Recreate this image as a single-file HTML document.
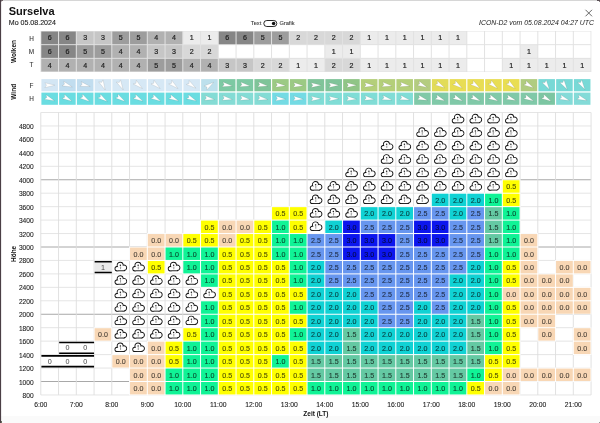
<!DOCTYPE html>
<html><head><meta charset="utf-8"><title>Surselva</title>
<style>
html,body{margin:0;padding:0;width:600px;height:423px;overflow:hidden;background:#fff}
body{position:relative;font-family:"Liberation Sans",sans-serif}
.cb{stroke:#111;stroke-width:1.8px;fill:#111}.cw{fill:#fff}.cm{stroke:#a0a0a0;stroke-width:1.1px}.ar{fill:#fff;stroke:rgba(70,70,70,0.25);stroke-width:0.45px;stroke-linejoin:round}
</style></head><body>
<svg width="600" height="423" viewBox="0 0 600 423" style="position:absolute;left:0;top:0;will-change:transform"><defs></defs><rect x="1" y="416" width="599" height="7" fill="#fafafa"/><text x="8.7" y="15.3" style="font-family:'Liberation Sans', sans-serif;font-size:11px;font-weight:bold" fill="#111">Surselva</text><text x="8.8" y="25.3" style="font-family:'Liberation Sans', sans-serif;font-size:7.05px" fill="#222" stroke="#222" stroke-width="0.12">Mo 05.08.2024</text><text x="261.3" y="25.1" text-anchor="end" style="font-family:'Liberation Sans', sans-serif;font-size:5.7px" fill="#333" stroke="#333" stroke-width="0.08">Text</text><rect x="263.8" y="20.5" width="13" height="6" rx="3" ry="3" fill="#fff" stroke="#111" stroke-width="0.9"/><circle cx="273.6" cy="23.5" r="1.75" fill="#111"/><text x="279.4" y="25.1" style="font-family:'Liberation Sans', sans-serif;font-size:5.7px" fill="#333" stroke="#333" stroke-width="0.08">Grafik</text><text x="594" y="25.2" text-anchor="end" style="font-family:'Liberation Sans', sans-serif;font-size:6.9px;font-style:italic" fill="#222">ICON-D2 vom 05.08.2024 04:27 UTC</text><path d="M585.5,9.8 L592,16.3 M592,9.8 L585.5,16.3" stroke="#555" stroke-width="0.9" fill="none"/><rect x="40.50" y="31.00" width="550.85" height="41.00" fill="#e2e2e2"/><rect x="41.30" y="31.50" width="16.75" height="12.7" fill="#868686"/><text x="49.67" y="40.40" text-anchor="middle" style="font-family:'Liberation Sans', sans-serif;font-size:7.1px" fill="#222" stroke="#222" stroke-width="0.2">6</text><rect x="59.05" y="31.50" width="16.75" height="12.7" fill="#868686"/><text x="67.42" y="40.40" text-anchor="middle" style="font-family:'Liberation Sans', sans-serif;font-size:7.1px" fill="#222" stroke="#222" stroke-width="0.2">6</text><rect x="76.80" y="31.50" width="16.75" height="12.7" fill="#c6c6c6"/><text x="85.17" y="40.40" text-anchor="middle" style="font-family:'Liberation Sans', sans-serif;font-size:7.1px" fill="#222" stroke="#222" stroke-width="0.2">3</text><rect x="94.55" y="31.50" width="16.75" height="12.7" fill="#c6c6c6"/><text x="102.92" y="40.40" text-anchor="middle" style="font-family:'Liberation Sans', sans-serif;font-size:7.1px" fill="#222" stroke="#222" stroke-width="0.2">3</text><rect x="112.30" y="31.50" width="16.75" height="12.7" fill="#9d9d9d"/><text x="120.67" y="40.40" text-anchor="middle" style="font-family:'Liberation Sans', sans-serif;font-size:7.1px" fill="#222" stroke="#222" stroke-width="0.2">5</text><rect x="130.05" y="31.50" width="16.75" height="12.7" fill="#9d9d9d"/><text x="138.43" y="40.40" text-anchor="middle" style="font-family:'Liberation Sans', sans-serif;font-size:7.1px" fill="#222" stroke="#222" stroke-width="0.2">5</text><rect x="147.80" y="31.50" width="16.75" height="12.7" fill="#b1b1b1"/><text x="156.18" y="40.40" text-anchor="middle" style="font-family:'Liberation Sans', sans-serif;font-size:7.1px" fill="#222" stroke="#222" stroke-width="0.2">4</text><rect x="165.55" y="31.50" width="16.75" height="12.7" fill="#b1b1b1"/><text x="173.93" y="40.40" text-anchor="middle" style="font-family:'Liberation Sans', sans-serif;font-size:7.1px" fill="#222" stroke="#222" stroke-width="0.2">4</text><rect x="183.30" y="31.50" width="16.75" height="12.7" fill="#ececec"/><text x="191.68" y="40.40" text-anchor="middle" style="font-family:'Liberation Sans', sans-serif;font-size:7.1px" fill="#222" stroke="#222" stroke-width="0.2">1</text><rect x="201.05" y="31.50" width="16.75" height="12.7" fill="#ececec"/><text x="209.43" y="40.40" text-anchor="middle" style="font-family:'Liberation Sans', sans-serif;font-size:7.1px" fill="#222" stroke="#222" stroke-width="0.2">1</text><rect x="218.80" y="31.50" width="16.75" height="12.7" fill="#868686"/><text x="227.18" y="40.40" text-anchor="middle" style="font-family:'Liberation Sans', sans-serif;font-size:7.1px" fill="#222" stroke="#222" stroke-width="0.2">6</text><rect x="236.55" y="31.50" width="16.75" height="12.7" fill="#868686"/><text x="244.93" y="40.40" text-anchor="middle" style="font-family:'Liberation Sans', sans-serif;font-size:7.1px" fill="#222" stroke="#222" stroke-width="0.2">6</text><rect x="254.30" y="31.50" width="16.75" height="12.7" fill="#9d9d9d"/><text x="262.68" y="40.40" text-anchor="middle" style="font-family:'Liberation Sans', sans-serif;font-size:7.1px" fill="#222" stroke="#222" stroke-width="0.2">5</text><rect x="272.05" y="31.50" width="16.75" height="12.7" fill="#9d9d9d"/><text x="280.43" y="40.40" text-anchor="middle" style="font-family:'Liberation Sans', sans-serif;font-size:7.1px" fill="#222" stroke="#222" stroke-width="0.2">5</text><rect x="289.80" y="31.50" width="16.75" height="12.7" fill="#d8d8d8"/><text x="298.18" y="40.40" text-anchor="middle" style="font-family:'Liberation Sans', sans-serif;font-size:7.1px" fill="#222" stroke="#222" stroke-width="0.2">2</text><rect x="307.55" y="31.50" width="16.75" height="12.7" fill="#d8d8d8"/><text x="315.93" y="40.40" text-anchor="middle" style="font-family:'Liberation Sans', sans-serif;font-size:7.1px" fill="#222" stroke="#222" stroke-width="0.2">2</text><rect x="325.30" y="31.50" width="16.75" height="12.7" fill="#d8d8d8"/><text x="333.68" y="40.40" text-anchor="middle" style="font-family:'Liberation Sans', sans-serif;font-size:7.1px" fill="#222" stroke="#222" stroke-width="0.2">2</text><rect x="343.05" y="31.50" width="16.75" height="12.7" fill="#d8d8d8"/><text x="351.43" y="40.40" text-anchor="middle" style="font-family:'Liberation Sans', sans-serif;font-size:7.1px" fill="#222" stroke="#222" stroke-width="0.2">2</text><rect x="360.80" y="31.50" width="16.75" height="12.7" fill="#ececec"/><text x="369.18" y="40.40" text-anchor="middle" style="font-family:'Liberation Sans', sans-serif;font-size:7.1px" fill="#222" stroke="#222" stroke-width="0.2">1</text><rect x="378.55" y="31.50" width="16.75" height="12.7" fill="#ececec"/><text x="386.93" y="40.40" text-anchor="middle" style="font-family:'Liberation Sans', sans-serif;font-size:7.1px" fill="#222" stroke="#222" stroke-width="0.2">1</text><rect x="396.30" y="31.50" width="16.75" height="12.7" fill="#ececec"/><text x="404.68" y="40.40" text-anchor="middle" style="font-family:'Liberation Sans', sans-serif;font-size:7.1px" fill="#222" stroke="#222" stroke-width="0.2">1</text><rect x="414.05" y="31.50" width="16.75" height="12.7" fill="#ececec"/><text x="422.43" y="40.40" text-anchor="middle" style="font-family:'Liberation Sans', sans-serif;font-size:7.1px" fill="#222" stroke="#222" stroke-width="0.2">1</text><rect x="431.80" y="31.50" width="16.75" height="12.7" fill="#ececec"/><text x="440.18" y="40.40" text-anchor="middle" style="font-family:'Liberation Sans', sans-serif;font-size:7.1px" fill="#222" stroke="#222" stroke-width="0.2">1</text><rect x="449.55" y="31.50" width="16.75" height="12.7" fill="#ececec"/><text x="457.93" y="40.40" text-anchor="middle" style="font-family:'Liberation Sans', sans-serif;font-size:7.1px" fill="#222" stroke="#222" stroke-width="0.2">1</text><rect x="467.30" y="31.50" width="16.75" height="12.7" fill="#ffffff"/><rect x="485.05" y="31.50" width="16.75" height="12.7" fill="#ffffff"/><rect x="502.80" y="31.50" width="16.75" height="12.7" fill="#ffffff"/><rect x="520.55" y="31.50" width="16.75" height="12.7" fill="#ffffff"/><rect x="538.30" y="31.50" width="16.75" height="12.7" fill="#ffffff"/><rect x="556.05" y="31.50" width="16.75" height="12.7" fill="#ffffff"/><rect x="573.80" y="31.50" width="16.75" height="12.7" fill="#ffffff"/><rect x="41.30" y="45.15" width="16.75" height="12.7" fill="#868686"/><text x="49.67" y="54.05" text-anchor="middle" style="font-family:'Liberation Sans', sans-serif;font-size:7.1px" fill="#222" stroke="#222" stroke-width="0.2">6</text><rect x="59.05" y="45.15" width="16.75" height="12.7" fill="#868686"/><text x="67.42" y="54.05" text-anchor="middle" style="font-family:'Liberation Sans', sans-serif;font-size:7.1px" fill="#222" stroke="#222" stroke-width="0.2">6</text><rect x="76.80" y="45.15" width="16.75" height="12.7" fill="#9d9d9d"/><text x="85.17" y="54.05" text-anchor="middle" style="font-family:'Liberation Sans', sans-serif;font-size:7.1px" fill="#222" stroke="#222" stroke-width="0.2">5</text><rect x="94.55" y="45.15" width="16.75" height="12.7" fill="#9d9d9d"/><text x="102.92" y="54.05" text-anchor="middle" style="font-family:'Liberation Sans', sans-serif;font-size:7.1px" fill="#222" stroke="#222" stroke-width="0.2">5</text><rect x="112.30" y="45.15" width="16.75" height="12.7" fill="#b1b1b1"/><text x="120.67" y="54.05" text-anchor="middle" style="font-family:'Liberation Sans', sans-serif;font-size:7.1px" fill="#222" stroke="#222" stroke-width="0.2">4</text><rect x="130.05" y="45.15" width="16.75" height="12.7" fill="#b1b1b1"/><text x="138.43" y="54.05" text-anchor="middle" style="font-family:'Liberation Sans', sans-serif;font-size:7.1px" fill="#222" stroke="#222" stroke-width="0.2">4</text><rect x="147.80" y="45.15" width="16.75" height="12.7" fill="#c6c6c6"/><text x="156.18" y="54.05" text-anchor="middle" style="font-family:'Liberation Sans', sans-serif;font-size:7.1px" fill="#222" stroke="#222" stroke-width="0.2">3</text><rect x="165.55" y="45.15" width="16.75" height="12.7" fill="#c6c6c6"/><text x="173.93" y="54.05" text-anchor="middle" style="font-family:'Liberation Sans', sans-serif;font-size:7.1px" fill="#222" stroke="#222" stroke-width="0.2">3</text><rect x="183.30" y="45.15" width="16.75" height="12.7" fill="#d8d8d8"/><text x="191.68" y="54.05" text-anchor="middle" style="font-family:'Liberation Sans', sans-serif;font-size:7.1px" fill="#222" stroke="#222" stroke-width="0.2">2</text><rect x="201.05" y="45.15" width="16.75" height="12.7" fill="#d8d8d8"/><text x="209.43" y="54.05" text-anchor="middle" style="font-family:'Liberation Sans', sans-serif;font-size:7.1px" fill="#222" stroke="#222" stroke-width="0.2">2</text><rect x="218.80" y="45.15" width="16.75" height="12.7" fill="#ffffff"/><rect x="236.55" y="45.15" width="16.75" height="12.7" fill="#ffffff"/><rect x="254.30" y="45.15" width="16.75" height="12.7" fill="#ffffff"/><rect x="272.05" y="45.15" width="16.75" height="12.7" fill="#ffffff"/><rect x="289.80" y="45.15" width="16.75" height="12.7" fill="#ffffff"/><rect x="307.55" y="45.15" width="16.75" height="12.7" fill="#ffffff"/><rect x="325.30" y="45.15" width="16.75" height="12.7" fill="#ececec"/><text x="333.68" y="54.05" text-anchor="middle" style="font-family:'Liberation Sans', sans-serif;font-size:7.1px" fill="#222" stroke="#222" stroke-width="0.2">1</text><rect x="343.05" y="45.15" width="16.75" height="12.7" fill="#ececec"/><text x="351.43" y="54.05" text-anchor="middle" style="font-family:'Liberation Sans', sans-serif;font-size:7.1px" fill="#222" stroke="#222" stroke-width="0.2">1</text><rect x="360.80" y="45.15" width="16.75" height="12.7" fill="#ffffff"/><rect x="378.55" y="45.15" width="16.75" height="12.7" fill="#ffffff"/><rect x="396.30" y="45.15" width="16.75" height="12.7" fill="#ffffff"/><rect x="414.05" y="45.15" width="16.75" height="12.7" fill="#ffffff"/><rect x="431.80" y="45.15" width="16.75" height="12.7" fill="#ffffff"/><rect x="449.55" y="45.15" width="16.75" height="12.7" fill="#ffffff"/><rect x="467.30" y="45.15" width="16.75" height="12.7" fill="#ffffff"/><rect x="485.05" y="45.15" width="16.75" height="12.7" fill="#ffffff"/><rect x="502.80" y="45.15" width="16.75" height="12.7" fill="#ffffff"/><rect x="520.55" y="45.15" width="16.75" height="12.7" fill="#ececec"/><text x="528.92" y="54.05" text-anchor="middle" style="font-family:'Liberation Sans', sans-serif;font-size:7.1px" fill="#222" stroke="#222" stroke-width="0.2">1</text><rect x="538.30" y="45.15" width="16.75" height="12.7" fill="#ffffff"/><rect x="556.05" y="45.15" width="16.75" height="12.7" fill="#ffffff"/><rect x="573.80" y="45.15" width="16.75" height="12.7" fill="#ffffff"/><rect x="41.30" y="58.80" width="16.75" height="12.7" fill="#b1b1b1"/><text x="49.67" y="67.70" text-anchor="middle" style="font-family:'Liberation Sans', sans-serif;font-size:7.1px" fill="#222" stroke="#222" stroke-width="0.2">4</text><rect x="59.05" y="58.80" width="16.75" height="12.7" fill="#b1b1b1"/><text x="67.42" y="67.70" text-anchor="middle" style="font-family:'Liberation Sans', sans-serif;font-size:7.1px" fill="#222" stroke="#222" stroke-width="0.2">4</text><rect x="76.80" y="58.80" width="16.75" height="12.7" fill="#b1b1b1"/><text x="85.17" y="67.70" text-anchor="middle" style="font-family:'Liberation Sans', sans-serif;font-size:7.1px" fill="#222" stroke="#222" stroke-width="0.2">4</text><rect x="94.55" y="58.80" width="16.75" height="12.7" fill="#b1b1b1"/><text x="102.92" y="67.70" text-anchor="middle" style="font-family:'Liberation Sans', sans-serif;font-size:7.1px" fill="#222" stroke="#222" stroke-width="0.2">4</text><rect x="112.30" y="58.80" width="16.75" height="12.7" fill="#b1b1b1"/><text x="120.67" y="67.70" text-anchor="middle" style="font-family:'Liberation Sans', sans-serif;font-size:7.1px" fill="#222" stroke="#222" stroke-width="0.2">4</text><rect x="130.05" y="58.80" width="16.75" height="12.7" fill="#b1b1b1"/><text x="138.43" y="67.70" text-anchor="middle" style="font-family:'Liberation Sans', sans-serif;font-size:7.1px" fill="#222" stroke="#222" stroke-width="0.2">4</text><rect x="147.80" y="58.80" width="16.75" height="12.7" fill="#9d9d9d"/><text x="156.18" y="67.70" text-anchor="middle" style="font-family:'Liberation Sans', sans-serif;font-size:7.1px" fill="#222" stroke="#222" stroke-width="0.2">5</text><rect x="165.55" y="58.80" width="16.75" height="12.7" fill="#9d9d9d"/><text x="173.93" y="67.70" text-anchor="middle" style="font-family:'Liberation Sans', sans-serif;font-size:7.1px" fill="#222" stroke="#222" stroke-width="0.2">5</text><rect x="183.30" y="58.80" width="16.75" height="12.7" fill="#b1b1b1"/><text x="191.68" y="67.70" text-anchor="middle" style="font-family:'Liberation Sans', sans-serif;font-size:7.1px" fill="#222" stroke="#222" stroke-width="0.2">4</text><rect x="201.05" y="58.80" width="16.75" height="12.7" fill="#b1b1b1"/><text x="209.43" y="67.70" text-anchor="middle" style="font-family:'Liberation Sans', sans-serif;font-size:7.1px" fill="#222" stroke="#222" stroke-width="0.2">4</text><rect x="218.80" y="58.80" width="16.75" height="12.7" fill="#c6c6c6"/><text x="227.18" y="67.70" text-anchor="middle" style="font-family:'Liberation Sans', sans-serif;font-size:7.1px" fill="#222" stroke="#222" stroke-width="0.2">3</text><rect x="236.55" y="58.80" width="16.75" height="12.7" fill="#c6c6c6"/><text x="244.93" y="67.70" text-anchor="middle" style="font-family:'Liberation Sans', sans-serif;font-size:7.1px" fill="#222" stroke="#222" stroke-width="0.2">3</text><rect x="254.30" y="58.80" width="16.75" height="12.7" fill="#d8d8d8"/><text x="262.68" y="67.70" text-anchor="middle" style="font-family:'Liberation Sans', sans-serif;font-size:7.1px" fill="#222" stroke="#222" stroke-width="0.2">2</text><rect x="272.05" y="58.80" width="16.75" height="12.7" fill="#d8d8d8"/><text x="280.43" y="67.70" text-anchor="middle" style="font-family:'Liberation Sans', sans-serif;font-size:7.1px" fill="#222" stroke="#222" stroke-width="0.2">2</text><rect x="289.80" y="58.80" width="16.75" height="12.7" fill="#ececec"/><text x="298.18" y="67.70" text-anchor="middle" style="font-family:'Liberation Sans', sans-serif;font-size:7.1px" fill="#222" stroke="#222" stroke-width="0.2">1</text><rect x="307.55" y="58.80" width="16.75" height="12.7" fill="#ececec"/><text x="315.93" y="67.70" text-anchor="middle" style="font-family:'Liberation Sans', sans-serif;font-size:7.1px" fill="#222" stroke="#222" stroke-width="0.2">1</text><rect x="325.30" y="58.80" width="16.75" height="12.7" fill="#d8d8d8"/><text x="333.68" y="67.70" text-anchor="middle" style="font-family:'Liberation Sans', sans-serif;font-size:7.1px" fill="#222" stroke="#222" stroke-width="0.2">2</text><rect x="343.05" y="58.80" width="16.75" height="12.7" fill="#d8d8d8"/><text x="351.43" y="67.70" text-anchor="middle" style="font-family:'Liberation Sans', sans-serif;font-size:7.1px" fill="#222" stroke="#222" stroke-width="0.2">2</text><rect x="360.80" y="58.80" width="16.75" height="12.7" fill="#ececec"/><text x="369.18" y="67.70" text-anchor="middle" style="font-family:'Liberation Sans', sans-serif;font-size:7.1px" fill="#222" stroke="#222" stroke-width="0.2">1</text><rect x="378.55" y="58.80" width="16.75" height="12.7" fill="#ececec"/><text x="386.93" y="67.70" text-anchor="middle" style="font-family:'Liberation Sans', sans-serif;font-size:7.1px" fill="#222" stroke="#222" stroke-width="0.2">1</text><rect x="396.30" y="58.80" width="16.75" height="12.7" fill="#ececec"/><text x="404.68" y="67.70" text-anchor="middle" style="font-family:'Liberation Sans', sans-serif;font-size:7.1px" fill="#222" stroke="#222" stroke-width="0.2">1</text><rect x="414.05" y="58.80" width="16.75" height="12.7" fill="#ececec"/><text x="422.43" y="67.70" text-anchor="middle" style="font-family:'Liberation Sans', sans-serif;font-size:7.1px" fill="#222" stroke="#222" stroke-width="0.2">1</text><rect x="431.80" y="58.80" width="16.75" height="12.7" fill="#ececec"/><text x="440.18" y="67.70" text-anchor="middle" style="font-family:'Liberation Sans', sans-serif;font-size:7.1px" fill="#222" stroke="#222" stroke-width="0.2">1</text><rect x="449.55" y="58.80" width="16.75" height="12.7" fill="#ececec"/><text x="457.93" y="67.70" text-anchor="middle" style="font-family:'Liberation Sans', sans-serif;font-size:7.1px" fill="#222" stroke="#222" stroke-width="0.2">1</text><rect x="467.30" y="58.80" width="16.75" height="12.7" fill="#ffffff"/><rect x="485.05" y="58.80" width="16.75" height="12.7" fill="#ffffff"/><rect x="502.80" y="58.80" width="16.75" height="12.7" fill="#ececec"/><text x="511.18" y="67.70" text-anchor="middle" style="font-family:'Liberation Sans', sans-serif;font-size:7.1px" fill="#222" stroke="#222" stroke-width="0.2">1</text><rect x="520.55" y="58.80" width="16.75" height="12.7" fill="#ececec"/><text x="528.92" y="67.70" text-anchor="middle" style="font-family:'Liberation Sans', sans-serif;font-size:7.1px" fill="#222" stroke="#222" stroke-width="0.2">1</text><rect x="538.30" y="58.80" width="16.75" height="12.7" fill="#ececec"/><text x="546.67" y="67.70" text-anchor="middle" style="font-family:'Liberation Sans', sans-serif;font-size:7.1px" fill="#222" stroke="#222" stroke-width="0.2">1</text><rect x="556.05" y="58.80" width="16.75" height="12.7" fill="#ececec"/><text x="564.42" y="67.70" text-anchor="middle" style="font-family:'Liberation Sans', sans-serif;font-size:7.1px" fill="#222" stroke="#222" stroke-width="0.2">1</text><rect x="573.80" y="58.80" width="16.75" height="12.7" fill="#ececec"/><text x="582.17" y="67.70" text-anchor="middle" style="font-family:'Liberation Sans', sans-serif;font-size:7.1px" fill="#222" stroke="#222" stroke-width="0.2">1</text><text x="31.5" y="40.65" text-anchor="middle" style="font-family:'Liberation Sans', sans-serif;font-size:6.4px" fill="#333" stroke="#333" stroke-width="0.08">H</text><text x="31.5" y="54.15" text-anchor="middle" style="font-family:'Liberation Sans', sans-serif;font-size:6.4px" fill="#333" stroke="#333" stroke-width="0.08">M</text><text x="31.5" y="66.55" text-anchor="middle" style="font-family:'Liberation Sans', sans-serif;font-size:6.4px" fill="#333" stroke="#333" stroke-width="0.08">T</text><text x="31.5" y="87.55" text-anchor="middle" style="font-family:'Liberation Sans', sans-serif;font-size:6.4px" fill="#333" stroke="#333" stroke-width="0.08">F</text><text x="31.5" y="101.15" text-anchor="middle" style="font-family:'Liberation Sans', sans-serif;font-size:6.4px" fill="#333" stroke="#333" stroke-width="0.08">H</text><text transform="translate(16.4,51.5) rotate(-90)" text-anchor="middle" style="font-family:'Liberation Sans', sans-serif;font-size:6.5px;font-weight:bold" fill="#111">Wolken</text><text transform="translate(16.4,91.8) rotate(-90)" text-anchor="middle" style="font-family:'Liberation Sans', sans-serif;font-size:6.5px;font-weight:bold" fill="#111">Wind</text><rect x="41.40" y="79.10" width="16.55" height="12.2" fill="#d3e6f4"/><g transform="translate(49.67,85.20) rotate(0)"><path class="ar" d="M5.2,0 L-4.8,-2.4 L-3.1,0 L-4.8,2.4 Z"/></g><rect x="59.15" y="79.10" width="16.55" height="12.2" fill="#c1ddef"/><g transform="translate(67.42,85.20) rotate(20)"><path class="ar" d="M5.2,0 L-4.8,-2.4 L-3.1,0 L-4.8,2.4 Z"/></g><rect x="76.90" y="79.10" width="16.55" height="12.2" fill="#c1ddef"/><g transform="translate(85.17,85.20) rotate(15)"><path class="ar" d="M5.2,0 L-4.8,-2.4 L-3.1,0 L-4.8,2.4 Z"/></g><rect x="94.65" y="79.10" width="16.55" height="12.2" fill="#d6e8f5"/><g transform="translate(102.92,85.20) rotate(65)"><path class="ar" d="M5.2,0 L-4.8,-2.4 L-3.1,0 L-4.8,2.4 Z"/></g><rect x="112.40" y="79.10" width="16.55" height="12.2" fill="#d6e8f5"/><g transform="translate(120.67,85.20) rotate(62)"><path class="ar" d="M5.2,0 L-4.8,-2.4 L-3.1,0 L-4.8,2.4 Z"/></g><rect x="130.15" y="79.10" width="16.55" height="12.2" fill="#d6e8f5"/><g transform="translate(138.43,85.20) rotate(40)"><path class="ar" d="M5.2,0 L-4.8,-2.4 L-3.1,0 L-4.8,2.4 Z"/></g><rect x="147.90" y="79.10" width="16.55" height="12.2" fill="#d6e8f5"/><g transform="translate(156.18,85.20) rotate(40)"><path class="ar" d="M5.2,0 L-4.8,-2.4 L-3.1,0 L-4.8,2.4 Z"/></g><rect x="165.65" y="79.10" width="16.55" height="12.2" fill="#d6e8f5"/><g transform="translate(173.93,85.20) rotate(40)"><path class="ar" d="M5.2,0 L-4.8,-2.4 L-3.1,0 L-4.8,2.4 Z"/></g><rect x="183.40" y="79.10" width="16.55" height="12.2" fill="#d6e8f5"/><g transform="translate(191.68,85.20) rotate(35)"><path class="ar" d="M5.2,0 L-4.8,-2.4 L-3.1,0 L-4.8,2.4 Z"/></g><rect x="201.15" y="79.10" width="16.55" height="12.2" fill="#bde0ec"/><g transform="translate(209.43,85.20) rotate(-35)"><path class="ar" d="M5.2,0 L-4.8,-2.4 L-3.1,0 L-4.8,2.4 Z"/></g><rect x="218.90" y="79.10" width="16.55" height="12.2" fill="#7dc9a3"/><g transform="translate(227.18,85.20) rotate(10)"><path class="ar" d="M5.2,0 L-4.8,-2.4 L-3.1,0 L-4.8,2.4 Z"/></g><rect x="236.65" y="79.10" width="16.55" height="12.2" fill="#7dc9a3"/><g transform="translate(244.93,85.20) rotate(10)"><path class="ar" d="M5.2,0 L-4.8,-2.4 L-3.1,0 L-4.8,2.4 Z"/></g><rect x="254.40" y="79.10" width="16.55" height="12.2" fill="#7fc499"/><g transform="translate(262.68,85.20) rotate(10)"><path class="ar" d="M5.2,0 L-4.8,-2.4 L-3.1,0 L-4.8,2.4 Z"/></g><rect x="272.15" y="79.10" width="16.55" height="12.2" fill="#9cca84"/><g transform="translate(280.43,85.20) rotate(5)"><path class="ar" d="M5.2,0 L-4.8,-2.4 L-3.1,0 L-4.8,2.4 Z"/></g><rect x="289.90" y="79.10" width="16.55" height="12.2" fill="#9cca84"/><g transform="translate(298.18,85.20) rotate(5)"><path class="ar" d="M5.2,0 L-4.8,-2.4 L-3.1,0 L-4.8,2.4 Z"/></g><rect x="307.65" y="79.10" width="16.55" height="12.2" fill="#80c49a"/><g transform="translate(315.93,85.20) rotate(0)"><path class="ar" d="M5.2,0 L-4.8,-2.4 L-3.1,0 L-4.8,2.4 Z"/></g><rect x="325.40" y="79.10" width="16.55" height="12.2" fill="#80c49a"/><g transform="translate(333.68,85.20) rotate(0)"><path class="ar" d="M5.2,0 L-4.8,-2.4 L-3.1,0 L-4.8,2.4 Z"/></g><rect x="343.15" y="79.10" width="16.55" height="12.2" fill="#90c586"/><g transform="translate(351.43,85.20) rotate(0)"><path class="ar" d="M5.2,0 L-4.8,-2.4 L-3.1,0 L-4.8,2.4 Z"/></g><rect x="360.90" y="79.10" width="16.55" height="12.2" fill="#b4cf79"/><g transform="translate(369.18,85.20) rotate(5)"><path class="ar" d="M5.2,0 L-4.8,-2.4 L-3.1,0 L-4.8,2.4 Z"/></g><rect x="378.65" y="79.10" width="16.55" height="12.2" fill="#b4cf79"/><g transform="translate(386.93,85.20) rotate(10)"><path class="ar" d="M5.2,0 L-4.8,-2.4 L-3.1,0 L-4.8,2.4 Z"/></g><rect x="396.40" y="79.10" width="16.55" height="12.2" fill="#b4cf79"/><g transform="translate(404.68,85.20) rotate(10)"><path class="ar" d="M5.2,0 L-4.8,-2.4 L-3.1,0 L-4.8,2.4 Z"/></g><rect x="414.15" y="79.10" width="16.55" height="12.2" fill="#b4cc80"/><g transform="translate(422.43,85.20) rotate(25)"><path class="ar" d="M5.2,0 L-4.8,-2.4 L-3.1,0 L-4.8,2.4 Z"/></g><rect x="431.90" y="79.10" width="16.55" height="12.2" fill="#e2dc58"/><g transform="translate(440.18,85.20) rotate(30)"><path class="ar" d="M5.2,0 L-4.8,-2.4 L-3.1,0 L-4.8,2.4 Z"/></g><rect x="449.65" y="79.10" width="16.55" height="12.2" fill="#e8dd54"/><g transform="translate(457.93,85.20) rotate(35)"><path class="ar" d="M5.2,0 L-4.8,-2.4 L-3.1,0 L-4.8,2.4 Z"/></g><rect x="467.40" y="79.10" width="16.55" height="12.2" fill="#e8dd54"/><g transform="translate(475.68,85.20) rotate(35)"><path class="ar" d="M5.2,0 L-4.8,-2.4 L-3.1,0 L-4.8,2.4 Z"/></g><rect x="485.15" y="79.10" width="16.55" height="12.2" fill="#e8dd54"/><g transform="translate(493.43,85.20) rotate(40)"><path class="ar" d="M5.2,0 L-4.8,-2.4 L-3.1,0 L-4.8,2.4 Z"/></g><rect x="502.90" y="79.10" width="16.55" height="12.2" fill="#e9de52"/><g transform="translate(511.18,85.20) rotate(40)"><path class="ar" d="M5.2,0 L-4.8,-2.4 L-3.1,0 L-4.8,2.4 Z"/></g><rect x="520.65" y="79.10" width="16.55" height="12.2" fill="#b0cc80"/><g transform="translate(528.92,85.20) rotate(30)"><path class="ar" d="M5.2,0 L-4.8,-2.4 L-3.1,0 L-4.8,2.4 Z"/></g><rect x="538.40" y="79.10" width="16.55" height="12.2" fill="#78d9d6"/><g transform="translate(546.67,85.20) rotate(58)"><path class="ar" d="M5.2,0 L-4.8,-2.4 L-3.1,0 L-4.8,2.4 Z"/></g><rect x="556.15" y="79.10" width="16.55" height="12.2" fill="#78d9d6"/><g transform="translate(564.42,85.20) rotate(58)"><path class="ar" d="M5.2,0 L-4.8,-2.4 L-3.1,0 L-4.8,2.4 Z"/></g><rect x="573.90" y="79.10" width="16.55" height="12.2" fill="#78d9d6"/><g transform="translate(582.17,85.20) rotate(58)"><path class="ar" d="M5.2,0 L-4.8,-2.4 L-3.1,0 L-4.8,2.4 Z"/></g><rect x="41.40" y="92.60" width="16.55" height="12.2" fill="#6adde1"/><g transform="translate(49.67,98.70) rotate(22)"><path class="ar" d="M5.2,0 L-4.8,-2.4 L-3.1,0 L-4.8,2.4 Z"/></g><rect x="59.15" y="92.60" width="16.55" height="12.2" fill="#6adde1"/><g transform="translate(67.42,98.70) rotate(28)"><path class="ar" d="M5.2,0 L-4.8,-2.4 L-3.1,0 L-4.8,2.4 Z"/></g><rect x="76.90" y="92.60" width="16.55" height="12.2" fill="#6adde1"/><g transform="translate(85.17,98.70) rotate(32)"><path class="ar" d="M5.2,0 L-4.8,-2.4 L-3.1,0 L-4.8,2.4 Z"/></g><rect x="94.65" y="92.60" width="16.55" height="12.2" fill="#6adde1"/><g transform="translate(102.92,98.70) rotate(34)"><path class="ar" d="M5.2,0 L-4.8,-2.4 L-3.1,0 L-4.8,2.4 Z"/></g><rect x="112.40" y="92.60" width="16.55" height="12.2" fill="#6adde1"/><g transform="translate(120.67,98.70) rotate(33)"><path class="ar" d="M5.2,0 L-4.8,-2.4 L-3.1,0 L-4.8,2.4 Z"/></g><rect x="130.15" y="92.60" width="16.55" height="12.2" fill="#6adde1"/><g transform="translate(138.43,98.70) rotate(30)"><path class="ar" d="M5.2,0 L-4.8,-2.4 L-3.1,0 L-4.8,2.4 Z"/></g><rect x="147.90" y="92.60" width="16.55" height="12.2" fill="#6adde1"/><g transform="translate(156.18,98.70) rotate(30)"><path class="ar" d="M5.2,0 L-4.8,-2.4 L-3.1,0 L-4.8,2.4 Z"/></g><rect x="165.65" y="92.60" width="16.55" height="12.2" fill="#6adde1"/><g transform="translate(173.93,98.70) rotate(25)"><path class="ar" d="M5.2,0 L-4.8,-2.4 L-3.1,0 L-4.8,2.4 Z"/></g><rect x="183.40" y="92.60" width="16.55" height="12.2" fill="#6adde1"/><g transform="translate(191.68,98.70) rotate(25)"><path class="ar" d="M5.2,0 L-4.8,-2.4 L-3.1,0 L-4.8,2.4 Z"/></g><rect x="201.15" y="92.60" width="16.55" height="12.2" fill="#84dcd5"/><g transform="translate(209.43,98.70) rotate(10)"><path class="ar" d="M5.2,0 L-4.8,-2.4 L-3.1,0 L-4.8,2.4 Z"/></g><rect x="218.90" y="92.60" width="16.55" height="12.2" fill="#84dcd5"/><g transform="translate(227.18,98.70) rotate(10)"><path class="ar" d="M5.2,0 L-4.8,-2.4 L-3.1,0 L-4.8,2.4 Z"/></g><rect x="236.65" y="92.60" width="16.55" height="12.2" fill="#84dcd5"/><g transform="translate(244.93,98.70) rotate(10)"><path class="ar" d="M5.2,0 L-4.8,-2.4 L-3.1,0 L-4.8,2.4 Z"/></g><rect x="254.40" y="92.60" width="16.55" height="12.2" fill="#84dcd5"/><g transform="translate(262.68,98.70) rotate(10)"><path class="ar" d="M5.2,0 L-4.8,-2.4 L-3.1,0 L-4.8,2.4 Z"/></g><rect x="272.15" y="92.60" width="16.55" height="12.2" fill="#74dbe4"/><g transform="translate(280.43,98.70) rotate(5)"><path class="ar" d="M5.2,0 L-4.8,-2.4 L-3.1,0 L-4.8,2.4 Z"/></g><rect x="289.90" y="92.60" width="16.55" height="12.2" fill="#74dbe4"/><g transform="translate(298.18,98.70) rotate(5)"><path class="ar" d="M5.2,0 L-4.8,-2.4 L-3.1,0 L-4.8,2.4 Z"/></g><rect x="307.65" y="92.60" width="16.55" height="12.2" fill="#80ddd6"/><g transform="translate(315.93,98.70) rotate(0)"><path class="ar" d="M5.2,0 L-4.8,-2.4 L-3.1,0 L-4.8,2.4 Z"/></g><rect x="325.40" y="92.60" width="16.55" height="12.2" fill="#80ddd6"/><g transform="translate(333.68,98.70) rotate(0)"><path class="ar" d="M5.2,0 L-4.8,-2.4 L-3.1,0 L-4.8,2.4 Z"/></g><rect x="343.15" y="92.60" width="16.55" height="12.2" fill="#80ddd6"/><g transform="translate(351.43,98.70) rotate(5)"><path class="ar" d="M5.2,0 L-4.8,-2.4 L-3.1,0 L-4.8,2.4 Z"/></g><rect x="360.90" y="92.60" width="16.55" height="12.2" fill="#80ddd6"/><g transform="translate(369.18,98.70) rotate(10)"><path class="ar" d="M5.2,0 L-4.8,-2.4 L-3.1,0 L-4.8,2.4 Z"/></g><rect x="378.65" y="92.60" width="16.55" height="12.2" fill="#80ddd6"/><g transform="translate(386.93,98.70) rotate(15)"><path class="ar" d="M5.2,0 L-4.8,-2.4 L-3.1,0 L-4.8,2.4 Z"/></g><rect x="396.40" y="92.60" width="16.55" height="12.2" fill="#80ddd6"/><g transform="translate(404.68,98.70) rotate(15)"><path class="ar" d="M5.2,0 L-4.8,-2.4 L-3.1,0 L-4.8,2.4 Z"/></g><rect x="414.15" y="92.60" width="16.55" height="12.2" fill="#80c9a8"/><g transform="translate(422.43,98.70) rotate(18)"><path class="ar" d="M5.2,0 L-4.8,-2.4 L-3.1,0 L-4.8,2.4 Z"/></g><rect x="431.90" y="92.60" width="16.55" height="12.2" fill="#80c9a8"/><g transform="translate(440.18,98.70) rotate(22)"><path class="ar" d="M5.2,0 L-4.8,-2.4 L-3.1,0 L-4.8,2.4 Z"/></g><rect x="449.65" y="92.60" width="16.55" height="12.2" fill="#80c9a8"/><g transform="translate(457.93,98.70) rotate(25)"><path class="ar" d="M5.2,0 L-4.8,-2.4 L-3.1,0 L-4.8,2.4 Z"/></g><rect x="467.40" y="92.60" width="16.55" height="12.2" fill="#80c9a8"/><g transform="translate(475.68,98.70) rotate(25)"><path class="ar" d="M5.2,0 L-4.8,-2.4 L-3.1,0 L-4.8,2.4 Z"/></g><rect x="485.15" y="92.60" width="16.55" height="12.2" fill="#80c9a8"/><g transform="translate(493.43,98.70) rotate(25)"><path class="ar" d="M5.2,0 L-4.8,-2.4 L-3.1,0 L-4.8,2.4 Z"/></g><rect x="502.90" y="92.60" width="16.55" height="12.2" fill="#80c9a8"/><g transform="translate(511.18,98.70) rotate(20)"><path class="ar" d="M5.2,0 L-4.8,-2.4 L-3.1,0 L-4.8,2.4 Z"/></g><rect x="520.65" y="92.60" width="16.55" height="12.2" fill="#80c9a8"/><g transform="translate(528.92,98.70) rotate(25)"><path class="ar" d="M5.2,0 L-4.8,-2.4 L-3.1,0 L-4.8,2.4 Z"/></g><rect x="538.40" y="92.60" width="16.55" height="12.2" fill="#7cc6a2"/><g transform="translate(546.67,98.70) rotate(30)"><path class="ar" d="M5.2,0 L-4.8,-2.4 L-3.1,0 L-4.8,2.4 Z"/></g><rect x="556.15" y="92.60" width="16.55" height="12.2" fill="#84dbd8"/><g transform="translate(564.42,98.70) rotate(20)"><path class="ar" d="M5.2,0 L-4.8,-2.4 L-3.1,0 L-4.8,2.4 Z"/></g><rect x="573.90" y="92.60" width="16.55" height="12.2" fill="#84dbd8"/><g transform="translate(582.17,98.70) rotate(20)"><path class="ar" d="M5.2,0 L-4.8,-2.4 L-3.1,0 L-4.8,2.4 Z"/></g><path d="M40.80,112.50 H591.05" stroke="#e2e2e2" stroke-width="0.9"/><path d="M40.80,125.95 H591.05" stroke="#e2e2e2" stroke-width="0.9"/><path d="M40.80,139.40 H591.05" stroke="#e2e2e2" stroke-width="0.9"/><path d="M40.80,152.85 H591.05" stroke="#e2e2e2" stroke-width="0.9"/><path d="M40.80,166.30 H591.05" stroke="#e2e2e2" stroke-width="0.9"/><path d="M40.80,179.75 H591.05" stroke="#a8a8a8" stroke-width="1.0"/><path d="M40.80,193.20 H591.05" stroke="#e2e2e2" stroke-width="0.9"/><path d="M40.80,206.65 H591.05" stroke="#e2e2e2" stroke-width="0.9"/><path d="M40.80,220.10 H591.05" stroke="#e2e2e2" stroke-width="0.9"/><path d="M40.80,233.55 H591.05" stroke="#e2e2e2" stroke-width="0.9"/><path d="M40.80,247.00 H591.05" stroke="#a8a8a8" stroke-width="1.0"/><path d="M40.80,260.45 H591.05" stroke="#e2e2e2" stroke-width="0.9"/><path d="M40.80,273.90 H591.05" stroke="#e2e2e2" stroke-width="0.9"/><path d="M40.80,287.35 H591.05" stroke="#e2e2e2" stroke-width="0.9"/><path d="M40.80,300.80 H591.05" stroke="#e2e2e2" stroke-width="0.9"/><path d="M40.80,314.25 H591.05" stroke="#a8a8a8" stroke-width="1.0"/><path d="M40.80,327.70 H591.05" stroke="#e2e2e2" stroke-width="0.9"/><path d="M40.80,341.15 H591.05" stroke="#e2e2e2" stroke-width="0.9"/><path d="M40.80,354.60 H591.05" stroke="#e2e2e2" stroke-width="0.9"/><path d="M40.80,368.05 H591.05" stroke="#e2e2e2" stroke-width="0.9"/><path d="M40.80,381.50 H591.05" stroke="#a8a8a8" stroke-width="1.0"/><path d="M40.80,394.95 H591.05" stroke="#e2e2e2" stroke-width="0.9"/><path d="M40.80,112.50 V394.95" stroke="#dedede" stroke-width="0.9"/><path d="M58.55,112.50 V394.95" stroke="#dedede" stroke-width="0.9"/><path d="M76.30,112.50 V394.95" stroke="#dedede" stroke-width="0.9"/><path d="M94.05,112.50 V394.95" stroke="#dedede" stroke-width="0.9"/><path d="M111.80,112.50 V394.95" stroke="#dedede" stroke-width="0.9"/><path d="M129.55,112.50 V394.95" stroke="#dedede" stroke-width="0.9"/><path d="M147.30,112.50 V394.95" stroke="#dedede" stroke-width="0.9"/><path d="M165.05,112.50 V394.95" stroke="#dedede" stroke-width="0.9"/><path d="M182.80,112.50 V394.95" stroke="#dedede" stroke-width="0.9"/><path d="M200.55,112.50 V394.95" stroke="#dedede" stroke-width="0.9"/><path d="M218.30,112.50 V394.95" stroke="#dedede" stroke-width="0.9"/><path d="M236.05,112.50 V394.95" stroke="#dedede" stroke-width="0.9"/><path d="M253.80,112.50 V394.95" stroke="#dedede" stroke-width="0.9"/><path d="M271.55,112.50 V394.95" stroke="#dedede" stroke-width="0.9"/><path d="M289.30,112.50 V394.95" stroke="#dedede" stroke-width="0.9"/><path d="M307.05,112.50 V394.95" stroke="#dedede" stroke-width="0.9"/><path d="M324.80,112.50 V394.95" stroke="#dedede" stroke-width="0.9"/><path d="M342.55,112.50 V394.95" stroke="#dedede" stroke-width="0.9"/><path d="M360.30,112.50 V394.95" stroke="#dedede" stroke-width="0.9"/><path d="M378.05,112.50 V394.95" stroke="#dedede" stroke-width="0.9"/><path d="M395.80,112.50 V394.95" stroke="#dedede" stroke-width="0.9"/><path d="M413.55,112.50 V394.95" stroke="#dedede" stroke-width="0.9"/><path d="M431.30,112.50 V394.95" stroke="#dedede" stroke-width="0.9"/><path d="M449.05,112.50 V394.95" stroke="#dedede" stroke-width="0.9"/><path d="M466.80,112.50 V394.95" stroke="#dedede" stroke-width="0.9"/><path d="M484.55,112.50 V394.95" stroke="#dedede" stroke-width="0.9"/><path d="M502.30,112.50 V394.95" stroke="#dedede" stroke-width="0.9"/><path d="M520.05,112.50 V394.95" stroke="#dedede" stroke-width="0.9"/><path d="M537.80,112.50 V394.95" stroke="#dedede" stroke-width="0.9"/><path d="M555.55,112.50 V394.95" stroke="#dedede" stroke-width="0.9"/><path d="M573.30,112.50 V394.95" stroke="#dedede" stroke-width="0.9"/><path d="M591.05,112.50 V394.95" stroke="#dedede" stroke-width="0.9"/><g transform="translate(457.93,119.22)"><g class="cb"><circle cx="-3.6" cy="1.5" r="1.65"/><circle cx="-0.5" cy="-1.9" r="2.55"/><circle cx="3.2" cy="0.6" r="2.35"/><rect x="-3.6" y="0" width="6.8" height="3.15"/></g><g class="cw"><circle cx="-3.6" cy="1.5" r="1.65"/><circle cx="-0.5" cy="-1.9" r="2.55"/><circle cx="3.2" cy="0.6" r="2.35"/><rect x="-3.6" y="0" width="6.8" height="3.15"/></g><circle cx="-0.3" cy="-1.8" r="0.75" fill="#222"/><path d="M-0.15,-0.7 L-0.15,2.0" class="cm"/></g><g transform="translate(475.68,119.22)"><g class="cb"><circle cx="-3.6" cy="1.5" r="1.65"/><circle cx="-0.5" cy="-1.9" r="2.55"/><circle cx="3.2" cy="0.6" r="2.35"/><rect x="-3.6" y="0" width="6.8" height="3.15"/></g><g class="cw"><circle cx="-3.6" cy="1.5" r="1.65"/><circle cx="-0.5" cy="-1.9" r="2.55"/><circle cx="3.2" cy="0.6" r="2.35"/><rect x="-3.6" y="0" width="6.8" height="3.15"/></g><circle cx="-0.3" cy="-1.8" r="0.75" fill="#222"/><path d="M-0.15,-0.7 L-0.15,2.0" class="cm"/></g><g transform="translate(493.43,119.22)"><g class="cb"><circle cx="-3.6" cy="1.5" r="1.65"/><circle cx="-0.5" cy="-1.9" r="2.55"/><circle cx="3.2" cy="0.6" r="2.35"/><rect x="-3.6" y="0" width="6.8" height="3.15"/></g><g class="cw"><circle cx="-3.6" cy="1.5" r="1.65"/><circle cx="-0.5" cy="-1.9" r="2.55"/><circle cx="3.2" cy="0.6" r="2.35"/><rect x="-3.6" y="0" width="6.8" height="3.15"/></g><circle cx="-0.3" cy="-1.8" r="0.75" fill="#222"/><path d="M-0.15,-0.7 L-0.15,2.0" class="cm"/></g><g transform="translate(511.18,119.22)"><g class="cb"><circle cx="-3.6" cy="1.5" r="1.65"/><circle cx="-0.5" cy="-1.9" r="2.55"/><circle cx="3.2" cy="0.6" r="2.35"/><rect x="-3.6" y="0" width="6.8" height="3.15"/></g><g class="cw"><circle cx="-3.6" cy="1.5" r="1.65"/><circle cx="-0.5" cy="-1.9" r="2.55"/><circle cx="3.2" cy="0.6" r="2.35"/><rect x="-3.6" y="0" width="6.8" height="3.15"/></g><circle cx="-0.3" cy="-1.8" r="0.75" fill="#222"/><path d="M-0.15,-0.7 L-0.15,2.0" class="cm"/></g><g transform="translate(422.43,132.68)"><g class="cb"><circle cx="-3.6" cy="1.5" r="1.65"/><circle cx="-0.5" cy="-1.9" r="2.55"/><circle cx="3.2" cy="0.6" r="2.35"/><rect x="-3.6" y="0" width="6.8" height="3.15"/></g><g class="cw"><circle cx="-3.6" cy="1.5" r="1.65"/><circle cx="-0.5" cy="-1.9" r="2.55"/><circle cx="3.2" cy="0.6" r="2.35"/><rect x="-3.6" y="0" width="6.8" height="3.15"/></g><circle cx="-0.3" cy="-1.8" r="0.75" fill="#222"/><path d="M-0.15,-0.7 L-0.15,2.0" class="cm"/></g><g transform="translate(440.18,132.68)"><g class="cb"><circle cx="-3.6" cy="1.5" r="1.65"/><circle cx="-0.5" cy="-1.9" r="2.55"/><circle cx="3.2" cy="0.6" r="2.35"/><rect x="-3.6" y="0" width="6.8" height="3.15"/></g><g class="cw"><circle cx="-3.6" cy="1.5" r="1.65"/><circle cx="-0.5" cy="-1.9" r="2.55"/><circle cx="3.2" cy="0.6" r="2.35"/><rect x="-3.6" y="0" width="6.8" height="3.15"/></g><circle cx="-0.3" cy="-1.8" r="0.75" fill="#222"/><path d="M-0.15,-0.7 L-0.15,2.0" class="cm"/></g><g transform="translate(457.93,132.68)"><g class="cb"><circle cx="-3.6" cy="1.5" r="1.65"/><circle cx="-0.5" cy="-1.9" r="2.55"/><circle cx="3.2" cy="0.6" r="2.35"/><rect x="-3.6" y="0" width="6.8" height="3.15"/></g><g class="cw"><circle cx="-3.6" cy="1.5" r="1.65"/><circle cx="-0.5" cy="-1.9" r="2.55"/><circle cx="3.2" cy="0.6" r="2.35"/><rect x="-3.6" y="0" width="6.8" height="3.15"/></g><circle cx="-0.3" cy="-1.8" r="0.75" fill="#222"/><path d="M-0.15,-0.7 L-0.15,2.0" class="cm"/></g><g transform="translate(475.68,132.68)"><g class="cb"><circle cx="-3.6" cy="1.5" r="1.65"/><circle cx="-0.5" cy="-1.9" r="2.55"/><circle cx="3.2" cy="0.6" r="2.35"/><rect x="-3.6" y="0" width="6.8" height="3.15"/></g><g class="cw"><circle cx="-3.6" cy="1.5" r="1.65"/><circle cx="-0.5" cy="-1.9" r="2.55"/><circle cx="3.2" cy="0.6" r="2.35"/><rect x="-3.6" y="0" width="6.8" height="3.15"/></g><circle cx="-0.3" cy="-1.8" r="0.75" fill="#222"/><path d="M-0.15,-0.7 L-0.15,2.0" class="cm"/></g><g transform="translate(493.43,132.68)"><g class="cb"><circle cx="-3.6" cy="1.5" r="1.65"/><circle cx="-0.5" cy="-1.9" r="2.55"/><circle cx="3.2" cy="0.6" r="2.35"/><rect x="-3.6" y="0" width="6.8" height="3.15"/></g><g class="cw"><circle cx="-3.6" cy="1.5" r="1.65"/><circle cx="-0.5" cy="-1.9" r="2.55"/><circle cx="3.2" cy="0.6" r="2.35"/><rect x="-3.6" y="0" width="6.8" height="3.15"/></g><circle cx="-0.3" cy="-1.8" r="0.75" fill="#222"/><path d="M-0.15,-0.7 L-0.15,2.0" class="cm"/></g><g transform="translate(511.18,132.68)"><g class="cb"><circle cx="-3.6" cy="1.5" r="1.65"/><circle cx="-0.5" cy="-1.9" r="2.55"/><circle cx="3.2" cy="0.6" r="2.35"/><rect x="-3.6" y="0" width="6.8" height="3.15"/></g><g class="cw"><circle cx="-3.6" cy="1.5" r="1.65"/><circle cx="-0.5" cy="-1.9" r="2.55"/><circle cx="3.2" cy="0.6" r="2.35"/><rect x="-3.6" y="0" width="6.8" height="3.15"/></g><circle cx="-0.3" cy="-1.8" r="0.75" fill="#222"/><path d="M-0.15,-0.7 L-0.15,2.0" class="cm"/></g><g transform="translate(386.93,146.12)"><g class="cb"><circle cx="-3.6" cy="1.5" r="1.65"/><circle cx="-0.5" cy="-1.9" r="2.55"/><circle cx="3.2" cy="0.6" r="2.35"/><rect x="-3.6" y="0" width="6.8" height="3.15"/></g><g class="cw"><circle cx="-3.6" cy="1.5" r="1.65"/><circle cx="-0.5" cy="-1.9" r="2.55"/><circle cx="3.2" cy="0.6" r="2.35"/><rect x="-3.6" y="0" width="6.8" height="3.15"/></g><circle cx="-0.3" cy="-1.8" r="0.75" fill="#222"/><path d="M-0.15,-0.7 L-0.15,2.0" class="cm"/></g><g transform="translate(404.68,146.12)"><g class="cb"><circle cx="-3.6" cy="1.5" r="1.65"/><circle cx="-0.5" cy="-1.9" r="2.55"/><circle cx="3.2" cy="0.6" r="2.35"/><rect x="-3.6" y="0" width="6.8" height="3.15"/></g><g class="cw"><circle cx="-3.6" cy="1.5" r="1.65"/><circle cx="-0.5" cy="-1.9" r="2.55"/><circle cx="3.2" cy="0.6" r="2.35"/><rect x="-3.6" y="0" width="6.8" height="3.15"/></g><circle cx="-0.3" cy="-1.8" r="0.75" fill="#222"/><path d="M-0.15,-0.7 L-0.15,2.0" class="cm"/></g><g transform="translate(422.43,146.12)"><g class="cb"><circle cx="-3.6" cy="1.5" r="1.65"/><circle cx="-0.5" cy="-1.9" r="2.55"/><circle cx="3.2" cy="0.6" r="2.35"/><rect x="-3.6" y="0" width="6.8" height="3.15"/></g><g class="cw"><circle cx="-3.6" cy="1.5" r="1.65"/><circle cx="-0.5" cy="-1.9" r="2.55"/><circle cx="3.2" cy="0.6" r="2.35"/><rect x="-3.6" y="0" width="6.8" height="3.15"/></g><circle cx="-0.3" cy="-1.8" r="0.75" fill="#222"/><path d="M-0.15,-0.7 L-0.15,2.0" class="cm"/></g><g transform="translate(440.18,146.12)"><g class="cb"><circle cx="-3.6" cy="1.5" r="1.65"/><circle cx="-0.5" cy="-1.9" r="2.55"/><circle cx="3.2" cy="0.6" r="2.35"/><rect x="-3.6" y="0" width="6.8" height="3.15"/></g><g class="cw"><circle cx="-3.6" cy="1.5" r="1.65"/><circle cx="-0.5" cy="-1.9" r="2.55"/><circle cx="3.2" cy="0.6" r="2.35"/><rect x="-3.6" y="0" width="6.8" height="3.15"/></g><circle cx="-0.3" cy="-1.8" r="0.75" fill="#222"/><path d="M-0.15,-0.7 L-0.15,2.0" class="cm"/></g><g transform="translate(457.93,146.12)"><g class="cb"><circle cx="-3.6" cy="1.5" r="1.65"/><circle cx="-0.5" cy="-1.9" r="2.55"/><circle cx="3.2" cy="0.6" r="2.35"/><rect x="-3.6" y="0" width="6.8" height="3.15"/></g><g class="cw"><circle cx="-3.6" cy="1.5" r="1.65"/><circle cx="-0.5" cy="-1.9" r="2.55"/><circle cx="3.2" cy="0.6" r="2.35"/><rect x="-3.6" y="0" width="6.8" height="3.15"/></g><circle cx="-0.3" cy="-1.8" r="0.75" fill="#222"/><path d="M-0.15,-0.7 L-0.15,2.0" class="cm"/></g><g transform="translate(475.68,146.12)"><g class="cb"><circle cx="-3.6" cy="1.5" r="1.65"/><circle cx="-0.5" cy="-1.9" r="2.55"/><circle cx="3.2" cy="0.6" r="2.35"/><rect x="-3.6" y="0" width="6.8" height="3.15"/></g><g class="cw"><circle cx="-3.6" cy="1.5" r="1.65"/><circle cx="-0.5" cy="-1.9" r="2.55"/><circle cx="3.2" cy="0.6" r="2.35"/><rect x="-3.6" y="0" width="6.8" height="3.15"/></g><circle cx="-0.3" cy="-1.8" r="0.75" fill="#222"/><path d="M-0.15,-0.7 L-0.15,2.0" class="cm"/></g><g transform="translate(493.43,146.12)"><g class="cb"><circle cx="-3.6" cy="1.5" r="1.65"/><circle cx="-0.5" cy="-1.9" r="2.55"/><circle cx="3.2" cy="0.6" r="2.35"/><rect x="-3.6" y="0" width="6.8" height="3.15"/></g><g class="cw"><circle cx="-3.6" cy="1.5" r="1.65"/><circle cx="-0.5" cy="-1.9" r="2.55"/><circle cx="3.2" cy="0.6" r="2.35"/><rect x="-3.6" y="0" width="6.8" height="3.15"/></g><circle cx="-0.3" cy="-1.8" r="0.75" fill="#222"/><path d="M-0.15,-0.7 L-0.15,2.0" class="cm"/></g><g transform="translate(511.18,146.12)"><g class="cb"><circle cx="-3.6" cy="1.5" r="1.65"/><circle cx="-0.5" cy="-1.9" r="2.55"/><circle cx="3.2" cy="0.6" r="2.35"/><rect x="-3.6" y="0" width="6.8" height="3.15"/></g><g class="cw"><circle cx="-3.6" cy="1.5" r="1.65"/><circle cx="-0.5" cy="-1.9" r="2.55"/><circle cx="3.2" cy="0.6" r="2.35"/><rect x="-3.6" y="0" width="6.8" height="3.15"/></g><circle cx="-0.3" cy="-1.8" r="0.75" fill="#222"/><path d="M-0.15,-0.7 L-0.15,2.0" class="cm"/></g><g transform="translate(386.93,159.57)"><g class="cb"><circle cx="-3.6" cy="1.5" r="1.65"/><circle cx="-0.5" cy="-1.9" r="2.55"/><circle cx="3.2" cy="0.6" r="2.35"/><rect x="-3.6" y="0" width="6.8" height="3.15"/></g><g class="cw"><circle cx="-3.6" cy="1.5" r="1.65"/><circle cx="-0.5" cy="-1.9" r="2.55"/><circle cx="3.2" cy="0.6" r="2.35"/><rect x="-3.6" y="0" width="6.8" height="3.15"/></g><circle cx="-0.3" cy="-1.8" r="0.75" fill="#222"/><path d="M-0.15,-0.7 L-0.15,2.0" class="cm"/></g><g transform="translate(404.68,159.57)"><g class="cb"><circle cx="-3.6" cy="1.5" r="1.65"/><circle cx="-0.5" cy="-1.9" r="2.55"/><circle cx="3.2" cy="0.6" r="2.35"/><rect x="-3.6" y="0" width="6.8" height="3.15"/></g><g class="cw"><circle cx="-3.6" cy="1.5" r="1.65"/><circle cx="-0.5" cy="-1.9" r="2.55"/><circle cx="3.2" cy="0.6" r="2.35"/><rect x="-3.6" y="0" width="6.8" height="3.15"/></g><circle cx="-0.3" cy="-1.8" r="0.75" fill="#222"/><path d="M-0.15,-0.7 L-0.15,2.0" class="cm"/></g><g transform="translate(422.43,159.57)"><g class="cb"><circle cx="-3.6" cy="1.5" r="1.65"/><circle cx="-0.5" cy="-1.9" r="2.55"/><circle cx="3.2" cy="0.6" r="2.35"/><rect x="-3.6" y="0" width="6.8" height="3.15"/></g><g class="cw"><circle cx="-3.6" cy="1.5" r="1.65"/><circle cx="-0.5" cy="-1.9" r="2.55"/><circle cx="3.2" cy="0.6" r="2.35"/><rect x="-3.6" y="0" width="6.8" height="3.15"/></g><circle cx="-0.3" cy="-1.8" r="0.75" fill="#222"/><path d="M-0.15,-0.7 L-0.15,2.0" class="cm"/></g><g transform="translate(440.18,159.57)"><g class="cb"><circle cx="-3.6" cy="1.5" r="1.65"/><circle cx="-0.5" cy="-1.9" r="2.55"/><circle cx="3.2" cy="0.6" r="2.35"/><rect x="-3.6" y="0" width="6.8" height="3.15"/></g><g class="cw"><circle cx="-3.6" cy="1.5" r="1.65"/><circle cx="-0.5" cy="-1.9" r="2.55"/><circle cx="3.2" cy="0.6" r="2.35"/><rect x="-3.6" y="0" width="6.8" height="3.15"/></g><circle cx="-0.3" cy="-1.8" r="0.75" fill="#222"/><path d="M-0.15,-0.7 L-0.15,2.0" class="cm"/></g><g transform="translate(457.93,159.57)"><g class="cb"><circle cx="-3.6" cy="1.5" r="1.65"/><circle cx="-0.5" cy="-1.9" r="2.55"/><circle cx="3.2" cy="0.6" r="2.35"/><rect x="-3.6" y="0" width="6.8" height="3.15"/></g><g class="cw"><circle cx="-3.6" cy="1.5" r="1.65"/><circle cx="-0.5" cy="-1.9" r="2.55"/><circle cx="3.2" cy="0.6" r="2.35"/><rect x="-3.6" y="0" width="6.8" height="3.15"/></g><circle cx="-0.3" cy="-1.8" r="0.75" fill="#222"/><path d="M-0.15,-0.7 L-0.15,2.0" class="cm"/></g><g transform="translate(475.68,159.57)"><g class="cb"><circle cx="-3.6" cy="1.5" r="1.65"/><circle cx="-0.5" cy="-1.9" r="2.55"/><circle cx="3.2" cy="0.6" r="2.35"/><rect x="-3.6" y="0" width="6.8" height="3.15"/></g><g class="cw"><circle cx="-3.6" cy="1.5" r="1.65"/><circle cx="-0.5" cy="-1.9" r="2.55"/><circle cx="3.2" cy="0.6" r="2.35"/><rect x="-3.6" y="0" width="6.8" height="3.15"/></g><circle cx="-0.3" cy="-1.8" r="0.75" fill="#222"/><path d="M-0.15,-0.7 L-0.15,2.0" class="cm"/></g><g transform="translate(493.43,159.57)"><g class="cb"><circle cx="-3.6" cy="1.5" r="1.65"/><circle cx="-0.5" cy="-1.9" r="2.55"/><circle cx="3.2" cy="0.6" r="2.35"/><rect x="-3.6" y="0" width="6.8" height="3.15"/></g><g class="cw"><circle cx="-3.6" cy="1.5" r="1.65"/><circle cx="-0.5" cy="-1.9" r="2.55"/><circle cx="3.2" cy="0.6" r="2.35"/><rect x="-3.6" y="0" width="6.8" height="3.15"/></g><circle cx="-0.3" cy="-1.8" r="0.75" fill="#222"/><path d="M-0.15,-0.7 L-0.15,2.0" class="cm"/></g><g transform="translate(511.18,159.57)"><g class="cb"><circle cx="-3.6" cy="1.5" r="1.65"/><circle cx="-0.5" cy="-1.9" r="2.55"/><circle cx="3.2" cy="0.6" r="2.35"/><rect x="-3.6" y="0" width="6.8" height="3.15"/></g><g class="cw"><circle cx="-3.6" cy="1.5" r="1.65"/><circle cx="-0.5" cy="-1.9" r="2.55"/><circle cx="3.2" cy="0.6" r="2.35"/><rect x="-3.6" y="0" width="6.8" height="3.15"/></g><circle cx="-0.3" cy="-1.8" r="0.75" fill="#222"/><path d="M-0.15,-0.7 L-0.15,2.0" class="cm"/></g><g transform="translate(351.43,173.03)"><g class="cb"><circle cx="-3.6" cy="1.5" r="1.65"/><circle cx="-0.5" cy="-1.9" r="2.55"/><circle cx="3.2" cy="0.6" r="2.35"/><rect x="-3.6" y="0" width="6.8" height="3.15"/></g><g class="cw"><circle cx="-3.6" cy="1.5" r="1.65"/><circle cx="-0.5" cy="-1.9" r="2.55"/><circle cx="3.2" cy="0.6" r="2.35"/><rect x="-3.6" y="0" width="6.8" height="3.15"/></g><circle cx="-0.3" cy="-1.8" r="0.75" fill="#222"/><path d="M-0.15,-0.7 L-0.15,2.0" class="cm"/></g><g transform="translate(369.18,173.03)"><g class="cb"><circle cx="-3.6" cy="1.5" r="1.65"/><circle cx="-0.5" cy="-1.9" r="2.55"/><circle cx="3.2" cy="0.6" r="2.35"/><rect x="-3.6" y="0" width="6.8" height="3.15"/></g><g class="cw"><circle cx="-3.6" cy="1.5" r="1.65"/><circle cx="-0.5" cy="-1.9" r="2.55"/><circle cx="3.2" cy="0.6" r="2.35"/><rect x="-3.6" y="0" width="6.8" height="3.15"/></g><circle cx="-0.3" cy="-1.8" r="0.75" fill="#222"/><path d="M-0.15,-0.7 L-0.15,2.0" class="cm"/></g><g transform="translate(386.93,173.03)"><g class="cb"><circle cx="-3.6" cy="1.5" r="1.65"/><circle cx="-0.5" cy="-1.9" r="2.55"/><circle cx="3.2" cy="0.6" r="2.35"/><rect x="-3.6" y="0" width="6.8" height="3.15"/></g><g class="cw"><circle cx="-3.6" cy="1.5" r="1.65"/><circle cx="-0.5" cy="-1.9" r="2.55"/><circle cx="3.2" cy="0.6" r="2.35"/><rect x="-3.6" y="0" width="6.8" height="3.15"/></g><circle cx="-0.3" cy="-1.8" r="0.75" fill="#222"/><path d="M-0.15,-0.7 L-0.15,2.0" class="cm"/></g><g transform="translate(404.68,173.03)"><g class="cb"><circle cx="-3.6" cy="1.5" r="1.65"/><circle cx="-0.5" cy="-1.9" r="2.55"/><circle cx="3.2" cy="0.6" r="2.35"/><rect x="-3.6" y="0" width="6.8" height="3.15"/></g><g class="cw"><circle cx="-3.6" cy="1.5" r="1.65"/><circle cx="-0.5" cy="-1.9" r="2.55"/><circle cx="3.2" cy="0.6" r="2.35"/><rect x="-3.6" y="0" width="6.8" height="3.15"/></g><circle cx="-0.3" cy="-1.8" r="0.75" fill="#222"/><path d="M-0.15,-0.7 L-0.15,2.0" class="cm"/></g><g transform="translate(422.43,173.03)"><g class="cb"><circle cx="-3.6" cy="1.5" r="1.65"/><circle cx="-0.5" cy="-1.9" r="2.55"/><circle cx="3.2" cy="0.6" r="2.35"/><rect x="-3.6" y="0" width="6.8" height="3.15"/></g><g class="cw"><circle cx="-3.6" cy="1.5" r="1.65"/><circle cx="-0.5" cy="-1.9" r="2.55"/><circle cx="3.2" cy="0.6" r="2.35"/><rect x="-3.6" y="0" width="6.8" height="3.15"/></g><circle cx="-0.3" cy="-1.8" r="0.75" fill="#222"/><path d="M-0.15,-0.7 L-0.15,2.0" class="cm"/></g><g transform="translate(440.18,173.03)"><g class="cb"><circle cx="-3.6" cy="1.5" r="1.65"/><circle cx="-0.5" cy="-1.9" r="2.55"/><circle cx="3.2" cy="0.6" r="2.35"/><rect x="-3.6" y="0" width="6.8" height="3.15"/></g><g class="cw"><circle cx="-3.6" cy="1.5" r="1.65"/><circle cx="-0.5" cy="-1.9" r="2.55"/><circle cx="3.2" cy="0.6" r="2.35"/><rect x="-3.6" y="0" width="6.8" height="3.15"/></g><circle cx="-0.3" cy="-1.8" r="0.75" fill="#222"/><path d="M-0.15,-0.7 L-0.15,2.0" class="cm"/></g><g transform="translate(457.93,173.03)"><g class="cb"><circle cx="-3.6" cy="1.5" r="1.65"/><circle cx="-0.5" cy="-1.9" r="2.55"/><circle cx="3.2" cy="0.6" r="2.35"/><rect x="-3.6" y="0" width="6.8" height="3.15"/></g><g class="cw"><circle cx="-3.6" cy="1.5" r="1.65"/><circle cx="-0.5" cy="-1.9" r="2.55"/><circle cx="3.2" cy="0.6" r="2.35"/><rect x="-3.6" y="0" width="6.8" height="3.15"/></g><circle cx="-0.3" cy="-1.8" r="0.75" fill="#222"/><path d="M-0.15,-0.7 L-0.15,2.0" class="cm"/></g><g transform="translate(475.68,173.03)"><g class="cb"><circle cx="-3.6" cy="1.5" r="1.65"/><circle cx="-0.5" cy="-1.9" r="2.55"/><circle cx="3.2" cy="0.6" r="2.35"/><rect x="-3.6" y="0" width="6.8" height="3.15"/></g><g class="cw"><circle cx="-3.6" cy="1.5" r="1.65"/><circle cx="-0.5" cy="-1.9" r="2.55"/><circle cx="3.2" cy="0.6" r="2.35"/><rect x="-3.6" y="0" width="6.8" height="3.15"/></g><circle cx="-0.3" cy="-1.8" r="0.75" fill="#222"/><path d="M-0.15,-0.7 L-0.15,2.0" class="cm"/></g><g transform="translate(493.43,173.03)"><g class="cb"><circle cx="-3.6" cy="1.5" r="1.65"/><circle cx="-0.5" cy="-1.9" r="2.55"/><circle cx="3.2" cy="0.6" r="2.35"/><rect x="-3.6" y="0" width="6.8" height="3.15"/></g><g class="cw"><circle cx="-3.6" cy="1.5" r="1.65"/><circle cx="-0.5" cy="-1.9" r="2.55"/><circle cx="3.2" cy="0.6" r="2.35"/><rect x="-3.6" y="0" width="6.8" height="3.15"/></g><circle cx="-0.3" cy="-1.8" r="0.75" fill="#222"/><path d="M-0.15,-0.7 L-0.15,2.0" class="cm"/></g><g transform="translate(511.18,173.03)"><g class="cb"><circle cx="-3.6" cy="1.5" r="1.65"/><circle cx="-0.5" cy="-1.9" r="2.55"/><circle cx="3.2" cy="0.6" r="2.35"/><rect x="-3.6" y="0" width="6.8" height="3.15"/></g><g class="cw"><circle cx="-3.6" cy="1.5" r="1.65"/><circle cx="-0.5" cy="-1.9" r="2.55"/><circle cx="3.2" cy="0.6" r="2.35"/><rect x="-3.6" y="0" width="6.8" height="3.15"/></g><circle cx="-0.3" cy="-1.8" r="0.75" fill="#222"/><path d="M-0.15,-0.7 L-0.15,2.0" class="cm"/></g><g transform="translate(315.93,186.47)"><g class="cb"><circle cx="-3.6" cy="1.5" r="1.65"/><circle cx="-0.5" cy="-1.9" r="2.55"/><circle cx="3.2" cy="0.6" r="2.35"/><rect x="-3.6" y="0" width="6.8" height="3.15"/></g><g class="cw"><circle cx="-3.6" cy="1.5" r="1.65"/><circle cx="-0.5" cy="-1.9" r="2.55"/><circle cx="3.2" cy="0.6" r="2.35"/><rect x="-3.6" y="0" width="6.8" height="3.15"/></g><circle cx="-0.3" cy="-1.8" r="0.75" fill="#222"/><path d="M-0.15,-0.7 L-0.15,2.0" class="cm"/></g><g transform="translate(333.68,186.47)"><g class="cb"><circle cx="-3.6" cy="1.5" r="1.65"/><circle cx="-0.5" cy="-1.9" r="2.55"/><circle cx="3.2" cy="0.6" r="2.35"/><rect x="-3.6" y="0" width="6.8" height="3.15"/></g><g class="cw"><circle cx="-3.6" cy="1.5" r="1.65"/><circle cx="-0.5" cy="-1.9" r="2.55"/><circle cx="3.2" cy="0.6" r="2.35"/><rect x="-3.6" y="0" width="6.8" height="3.15"/></g><circle cx="-0.3" cy="-1.8" r="0.75" fill="#222"/><path d="M-0.15,-0.7 L-0.15,2.0" class="cm"/></g><g transform="translate(351.43,186.47)"><g class="cb"><circle cx="-3.6" cy="1.5" r="1.65"/><circle cx="-0.5" cy="-1.9" r="2.55"/><circle cx="3.2" cy="0.6" r="2.35"/><rect x="-3.6" y="0" width="6.8" height="3.15"/></g><g class="cw"><circle cx="-3.6" cy="1.5" r="1.65"/><circle cx="-0.5" cy="-1.9" r="2.55"/><circle cx="3.2" cy="0.6" r="2.35"/><rect x="-3.6" y="0" width="6.8" height="3.15"/></g><circle cx="-0.3" cy="-1.8" r="0.75" fill="#222"/><path d="M-0.15,-0.7 L-0.15,2.0" class="cm"/></g><g transform="translate(369.18,186.47)"><g class="cb"><circle cx="-3.6" cy="1.5" r="1.65"/><circle cx="-0.5" cy="-1.9" r="2.55"/><circle cx="3.2" cy="0.6" r="2.35"/><rect x="-3.6" y="0" width="6.8" height="3.15"/></g><g class="cw"><circle cx="-3.6" cy="1.5" r="1.65"/><circle cx="-0.5" cy="-1.9" r="2.55"/><circle cx="3.2" cy="0.6" r="2.35"/><rect x="-3.6" y="0" width="6.8" height="3.15"/></g><circle cx="-0.3" cy="-1.8" r="0.75" fill="#222"/><path d="M-0.15,-0.7 L-0.15,2.0" class="cm"/></g><g transform="translate(386.93,186.47)"><g class="cb"><circle cx="-3.6" cy="1.5" r="1.65"/><circle cx="-0.5" cy="-1.9" r="2.55"/><circle cx="3.2" cy="0.6" r="2.35"/><rect x="-3.6" y="0" width="6.8" height="3.15"/></g><g class="cw"><circle cx="-3.6" cy="1.5" r="1.65"/><circle cx="-0.5" cy="-1.9" r="2.55"/><circle cx="3.2" cy="0.6" r="2.35"/><rect x="-3.6" y="0" width="6.8" height="3.15"/></g><circle cx="-0.3" cy="-1.8" r="0.75" fill="#222"/><path d="M-0.15,-0.7 L-0.15,2.0" class="cm"/></g><g transform="translate(404.68,186.47)"><g class="cb"><circle cx="-3.6" cy="1.5" r="1.65"/><circle cx="-0.5" cy="-1.9" r="2.55"/><circle cx="3.2" cy="0.6" r="2.35"/><rect x="-3.6" y="0" width="6.8" height="3.15"/></g><g class="cw"><circle cx="-3.6" cy="1.5" r="1.65"/><circle cx="-0.5" cy="-1.9" r="2.55"/><circle cx="3.2" cy="0.6" r="2.35"/><rect x="-3.6" y="0" width="6.8" height="3.15"/></g><circle cx="-0.3" cy="-1.8" r="0.75" fill="#222"/><path d="M-0.15,-0.7 L-0.15,2.0" class="cm"/></g><g transform="translate(422.43,186.47)"><g class="cb"><circle cx="-3.6" cy="1.5" r="1.65"/><circle cx="-0.5" cy="-1.9" r="2.55"/><circle cx="3.2" cy="0.6" r="2.35"/><rect x="-3.6" y="0" width="6.8" height="3.15"/></g><g class="cw"><circle cx="-3.6" cy="1.5" r="1.65"/><circle cx="-0.5" cy="-1.9" r="2.55"/><circle cx="3.2" cy="0.6" r="2.35"/><rect x="-3.6" y="0" width="6.8" height="3.15"/></g><circle cx="-0.3" cy="-1.8" r="0.75" fill="#222"/><path d="M-0.15,-0.7 L-0.15,2.0" class="cm"/></g><g transform="translate(440.18,186.47)"><g class="cb"><circle cx="-3.6" cy="1.5" r="1.65"/><circle cx="-0.5" cy="-1.9" r="2.55"/><circle cx="3.2" cy="0.6" r="2.35"/><rect x="-3.6" y="0" width="6.8" height="3.15"/></g><g class="cw"><circle cx="-3.6" cy="1.5" r="1.65"/><circle cx="-0.5" cy="-1.9" r="2.55"/><circle cx="3.2" cy="0.6" r="2.35"/><rect x="-3.6" y="0" width="6.8" height="3.15"/></g><circle cx="-0.3" cy="-1.8" r="0.75" fill="#222"/><path d="M-0.15,-0.7 L-0.15,2.0" class="cm"/></g><g transform="translate(457.93,186.47)"><g class="cb"><circle cx="-3.6" cy="1.5" r="1.65"/><circle cx="-0.5" cy="-1.9" r="2.55"/><circle cx="3.2" cy="0.6" r="2.35"/><rect x="-3.6" y="0" width="6.8" height="3.15"/></g><g class="cw"><circle cx="-3.6" cy="1.5" r="1.65"/><circle cx="-0.5" cy="-1.9" r="2.55"/><circle cx="3.2" cy="0.6" r="2.35"/><rect x="-3.6" y="0" width="6.8" height="3.15"/></g><circle cx="-0.3" cy="-1.8" r="0.75" fill="#222"/><path d="M-0.15,-0.7 L-0.15,2.0" class="cm"/></g><g transform="translate(475.68,186.47)"><g class="cb"><circle cx="-3.6" cy="1.5" r="1.65"/><circle cx="-0.5" cy="-1.9" r="2.55"/><circle cx="3.2" cy="0.6" r="2.35"/><rect x="-3.6" y="0" width="6.8" height="3.15"/></g><g class="cw"><circle cx="-3.6" cy="1.5" r="1.65"/><circle cx="-0.5" cy="-1.9" r="2.55"/><circle cx="3.2" cy="0.6" r="2.35"/><rect x="-3.6" y="0" width="6.8" height="3.15"/></g><circle cx="-0.3" cy="-1.8" r="0.75" fill="#222"/><path d="M-0.15,-0.7 L-0.15,2.0" class="cm"/></g><g transform="translate(493.43,186.47)"><g class="cb"><circle cx="-3.6" cy="1.5" r="1.65"/><circle cx="-0.5" cy="-1.9" r="2.55"/><circle cx="3.2" cy="0.6" r="2.35"/><rect x="-3.6" y="0" width="6.8" height="3.15"/></g><g class="cw"><circle cx="-3.6" cy="1.5" r="1.65"/><circle cx="-0.5" cy="-1.9" r="2.55"/><circle cx="3.2" cy="0.6" r="2.35"/><rect x="-3.6" y="0" width="6.8" height="3.15"/></g><circle cx="-0.3" cy="-1.8" r="0.75" fill="#222"/><path d="M-0.15,-0.7 L-0.15,2.0" class="cm"/></g><rect x="501.90" y="179.35" width="18.55" height="14.25" fill="#fff"/><g transform="translate(315.93,199.92)"><g class="cb"><circle cx="-3.6" cy="1.5" r="1.65"/><circle cx="-0.5" cy="-1.9" r="2.55"/><circle cx="3.2" cy="0.6" r="2.35"/><rect x="-3.6" y="0" width="6.8" height="3.15"/></g><g class="cw"><circle cx="-3.6" cy="1.5" r="1.65"/><circle cx="-0.5" cy="-1.9" r="2.55"/><circle cx="3.2" cy="0.6" r="2.35"/><rect x="-3.6" y="0" width="6.8" height="3.15"/></g><circle cx="-0.3" cy="-1.8" r="0.75" fill="#222"/><path d="M-0.15,-0.7 L-0.15,2.0" class="cm"/></g><g transform="translate(333.68,199.92)"><g class="cb"><circle cx="-3.6" cy="1.5" r="1.65"/><circle cx="-0.5" cy="-1.9" r="2.55"/><circle cx="3.2" cy="0.6" r="2.35"/><rect x="-3.6" y="0" width="6.8" height="3.15"/></g><g class="cw"><circle cx="-3.6" cy="1.5" r="1.65"/><circle cx="-0.5" cy="-1.9" r="2.55"/><circle cx="3.2" cy="0.6" r="2.35"/><rect x="-3.6" y="0" width="6.8" height="3.15"/></g><circle cx="-0.3" cy="-1.8" r="0.75" fill="#222"/><path d="M-0.15,-0.7 L-0.15,2.0" class="cm"/></g><g transform="translate(351.43,199.92)"><g class="cb"><circle cx="-3.6" cy="1.5" r="1.65"/><circle cx="-0.5" cy="-1.9" r="2.55"/><circle cx="3.2" cy="0.6" r="2.35"/><rect x="-3.6" y="0" width="6.8" height="3.15"/></g><g class="cw"><circle cx="-3.6" cy="1.5" r="1.65"/><circle cx="-0.5" cy="-1.9" r="2.55"/><circle cx="3.2" cy="0.6" r="2.35"/><rect x="-3.6" y="0" width="6.8" height="3.15"/></g><circle cx="-0.3" cy="-1.8" r="0.75" fill="#222"/><path d="M-0.15,-0.7 L-0.15,2.0" class="cm"/></g><g transform="translate(369.18,199.92)"><g class="cb"><circle cx="-3.6" cy="1.5" r="1.65"/><circle cx="-0.5" cy="-1.9" r="2.55"/><circle cx="3.2" cy="0.6" r="2.35"/><rect x="-3.6" y="0" width="6.8" height="3.15"/></g><g class="cw"><circle cx="-3.6" cy="1.5" r="1.65"/><circle cx="-0.5" cy="-1.9" r="2.55"/><circle cx="3.2" cy="0.6" r="2.35"/><rect x="-3.6" y="0" width="6.8" height="3.15"/></g><circle cx="-0.3" cy="-1.8" r="0.75" fill="#222"/><path d="M-0.15,-0.7 L-0.15,2.0" class="cm"/></g><g transform="translate(386.93,199.92)"><g class="cb"><circle cx="-3.6" cy="1.5" r="1.65"/><circle cx="-0.5" cy="-1.9" r="2.55"/><circle cx="3.2" cy="0.6" r="2.35"/><rect x="-3.6" y="0" width="6.8" height="3.15"/></g><g class="cw"><circle cx="-3.6" cy="1.5" r="1.65"/><circle cx="-0.5" cy="-1.9" r="2.55"/><circle cx="3.2" cy="0.6" r="2.35"/><rect x="-3.6" y="0" width="6.8" height="3.15"/></g><circle cx="-0.3" cy="-1.8" r="0.75" fill="#222"/><path d="M-0.15,-0.7 L-0.15,2.0" class="cm"/></g><g transform="translate(404.68,199.92)"><g class="cb"><circle cx="-3.6" cy="1.5" r="1.65"/><circle cx="-0.5" cy="-1.9" r="2.55"/><circle cx="3.2" cy="0.6" r="2.35"/><rect x="-3.6" y="0" width="6.8" height="3.15"/></g><g class="cw"><circle cx="-3.6" cy="1.5" r="1.65"/><circle cx="-0.5" cy="-1.9" r="2.55"/><circle cx="3.2" cy="0.6" r="2.35"/><rect x="-3.6" y="0" width="6.8" height="3.15"/></g><circle cx="-0.3" cy="-1.8" r="0.75" fill="#222"/><path d="M-0.15,-0.7 L-0.15,2.0" class="cm"/></g><g transform="translate(422.43,199.92)"><g class="cb"><circle cx="-3.6" cy="1.5" r="1.65"/><circle cx="-0.5" cy="-1.9" r="2.55"/><circle cx="3.2" cy="0.6" r="2.35"/><rect x="-3.6" y="0" width="6.8" height="3.15"/></g><g class="cw"><circle cx="-3.6" cy="1.5" r="1.65"/><circle cx="-0.5" cy="-1.9" r="2.55"/><circle cx="3.2" cy="0.6" r="2.35"/><rect x="-3.6" y="0" width="6.8" height="3.15"/></g><circle cx="-0.3" cy="-1.8" r="0.75" fill="#222"/><path d="M-0.15,-0.7 L-0.15,2.0" class="cm"/></g><rect x="430.90" y="192.80" width="18.55" height="14.25" fill="#fff"/><rect x="448.65" y="192.80" width="18.55" height="14.25" fill="#fff"/><rect x="466.40" y="192.80" width="18.55" height="14.25" fill="#fff"/><rect x="484.15" y="192.80" width="18.55" height="14.25" fill="#fff"/><rect x="501.90" y="192.80" width="18.55" height="14.25" fill="#fff"/><rect x="271.15" y="206.25" width="18.55" height="14.25" fill="#fff"/><rect x="288.90" y="206.25" width="18.55" height="14.25" fill="#fff"/><g transform="translate(315.93,213.38)"><g class="cb"><circle cx="-3.6" cy="1.5" r="1.65"/><circle cx="-0.5" cy="-1.9" r="2.55"/><circle cx="3.2" cy="0.6" r="2.35"/><rect x="-3.6" y="0" width="6.8" height="3.15"/></g><g class="cw"><circle cx="-3.6" cy="1.5" r="1.65"/><circle cx="-0.5" cy="-1.9" r="2.55"/><circle cx="3.2" cy="0.6" r="2.35"/><rect x="-3.6" y="0" width="6.8" height="3.15"/></g><circle cx="-0.3" cy="-1.8" r="0.75" fill="#222"/><path d="M-0.15,-0.7 L-0.15,2.0" class="cm"/></g><g transform="translate(333.68,213.38)"><g class="cb"><circle cx="-3.6" cy="1.5" r="1.65"/><circle cx="-0.5" cy="-1.9" r="2.55"/><circle cx="3.2" cy="0.6" r="2.35"/><rect x="-3.6" y="0" width="6.8" height="3.15"/></g><g class="cw"><circle cx="-3.6" cy="1.5" r="1.65"/><circle cx="-0.5" cy="-1.9" r="2.55"/><circle cx="3.2" cy="0.6" r="2.35"/><rect x="-3.6" y="0" width="6.8" height="3.15"/></g><circle cx="-0.3" cy="-1.8" r="0.75" fill="#222"/><path d="M-0.15,-0.7 L-0.15,2.0" class="cm"/></g><g transform="translate(351.43,213.38)"><g class="cb"><circle cx="-3.6" cy="1.5" r="1.65"/><circle cx="-0.5" cy="-1.9" r="2.55"/><circle cx="3.2" cy="0.6" r="2.35"/><rect x="-3.6" y="0" width="6.8" height="3.15"/></g><g class="cw"><circle cx="-3.6" cy="1.5" r="1.65"/><circle cx="-0.5" cy="-1.9" r="2.55"/><circle cx="3.2" cy="0.6" r="2.35"/><rect x="-3.6" y="0" width="6.8" height="3.15"/></g><circle cx="-0.3" cy="-1.8" r="0.75" fill="#222"/><path d="M-0.15,-0.7 L-0.15,2.0" class="cm"/></g><rect x="359.90" y="206.25" width="18.55" height="14.25" fill="#fff"/><rect x="377.65" y="206.25" width="18.55" height="14.25" fill="#fff"/><rect x="395.40" y="206.25" width="18.55" height="14.25" fill="#fff"/><rect x="413.15" y="206.25" width="18.55" height="14.25" fill="#fff"/><rect x="430.90" y="206.25" width="18.55" height="14.25" fill="#fff"/><rect x="448.65" y="206.25" width="18.55" height="14.25" fill="#fff"/><rect x="466.40" y="206.25" width="18.55" height="14.25" fill="#fff"/><rect x="484.15" y="206.25" width="18.55" height="14.25" fill="#fff"/><rect x="501.90" y="206.25" width="18.55" height="14.25" fill="#fff"/><rect x="200.15" y="219.70" width="18.55" height="14.25" fill="#fff"/><rect x="217.90" y="219.70" width="18.55" height="14.25" fill="#fff"/><rect x="235.65" y="219.70" width="18.55" height="14.25" fill="#fff"/><rect x="253.40" y="219.70" width="18.55" height="14.25" fill="#fff"/><rect x="271.15" y="219.70" width="18.55" height="14.25" fill="#fff"/><rect x="288.90" y="219.70" width="18.55" height="14.25" fill="#fff"/><g transform="translate(315.93,226.82)"><g class="cb"><circle cx="-3.6" cy="1.5" r="1.65"/><circle cx="-0.5" cy="-1.9" r="2.55"/><circle cx="3.2" cy="0.6" r="2.35"/><rect x="-3.6" y="0" width="6.8" height="3.15"/></g><g class="cw"><circle cx="-3.6" cy="1.5" r="1.65"/><circle cx="-0.5" cy="-1.9" r="2.55"/><circle cx="3.2" cy="0.6" r="2.35"/><rect x="-3.6" y="0" width="6.8" height="3.15"/></g><circle cx="-0.3" cy="-1.8" r="0.75" fill="#222"/><path d="M-0.15,-0.7 L-0.15,2.0" class="cm"/></g><rect x="324.40" y="219.70" width="18.55" height="14.25" fill="#fff"/><rect x="342.15" y="219.70" width="18.55" height="14.25" fill="#fff"/><rect x="359.90" y="219.70" width="18.55" height="14.25" fill="#fff"/><rect x="377.65" y="219.70" width="18.55" height="14.25" fill="#fff"/><rect x="395.40" y="219.70" width="18.55" height="14.25" fill="#fff"/><rect x="413.15" y="219.70" width="18.55" height="14.25" fill="#fff"/><rect x="430.90" y="219.70" width="18.55" height="14.25" fill="#fff"/><rect x="448.65" y="219.70" width="18.55" height="14.25" fill="#fff"/><rect x="466.40" y="219.70" width="18.55" height="14.25" fill="#fff"/><rect x="484.15" y="219.70" width="18.55" height="14.25" fill="#fff"/><rect x="501.90" y="219.70" width="18.55" height="14.25" fill="#fff"/><rect x="146.90" y="233.15" width="18.55" height="14.25" fill="#fff"/><rect x="164.65" y="233.15" width="18.55" height="14.25" fill="#fff"/><rect x="182.40" y="233.15" width="18.55" height="14.25" fill="#fff"/><rect x="200.15" y="233.15" width="18.55" height="14.25" fill="#fff"/><rect x="217.90" y="233.15" width="18.55" height="14.25" fill="#fff"/><rect x="235.65" y="233.15" width="18.55" height="14.25" fill="#fff"/><rect x="253.40" y="233.15" width="18.55" height="14.25" fill="#fff"/><rect x="271.15" y="233.15" width="18.55" height="14.25" fill="#fff"/><rect x="288.90" y="233.15" width="18.55" height="14.25" fill="#fff"/><rect x="306.65" y="233.15" width="18.55" height="14.25" fill="#fff"/><rect x="324.40" y="233.15" width="18.55" height="14.25" fill="#fff"/><rect x="342.15" y="233.15" width="18.55" height="14.25" fill="#fff"/><rect x="359.90" y="233.15" width="18.55" height="14.25" fill="#fff"/><rect x="377.65" y="233.15" width="18.55" height="14.25" fill="#fff"/><rect x="395.40" y="233.15" width="18.55" height="14.25" fill="#fff"/><rect x="413.15" y="233.15" width="18.55" height="14.25" fill="#fff"/><rect x="430.90" y="233.15" width="18.55" height="14.25" fill="#fff"/><rect x="448.65" y="233.15" width="18.55" height="14.25" fill="#fff"/><rect x="466.40" y="233.15" width="18.55" height="14.25" fill="#fff"/><rect x="484.15" y="233.15" width="18.55" height="14.25" fill="#fff"/><rect x="501.90" y="233.15" width="18.55" height="14.25" fill="#fff"/><rect x="519.65" y="233.15" width="18.55" height="14.25" fill="#fff"/><rect x="129.15" y="246.60" width="18.55" height="14.25" fill="#fff"/><rect x="146.90" y="246.60" width="18.55" height="14.25" fill="#fff"/><rect x="164.65" y="246.60" width="18.55" height="14.25" fill="#fff"/><rect x="182.40" y="246.60" width="18.55" height="14.25" fill="#fff"/><rect x="200.15" y="246.60" width="18.55" height="14.25" fill="#fff"/><rect x="217.90" y="246.60" width="18.55" height="14.25" fill="#fff"/><rect x="235.65" y="246.60" width="18.55" height="14.25" fill="#fff"/><rect x="253.40" y="246.60" width="18.55" height="14.25" fill="#fff"/><rect x="271.15" y="246.60" width="18.55" height="14.25" fill="#fff"/><rect x="288.90" y="246.60" width="18.55" height="14.25" fill="#fff"/><rect x="306.65" y="246.60" width="18.55" height="14.25" fill="#fff"/><rect x="324.40" y="246.60" width="18.55" height="14.25" fill="#fff"/><rect x="342.15" y="246.60" width="18.55" height="14.25" fill="#fff"/><rect x="359.90" y="246.60" width="18.55" height="14.25" fill="#fff"/><rect x="377.65" y="246.60" width="18.55" height="14.25" fill="#fff"/><rect x="395.40" y="246.60" width="18.55" height="14.25" fill="#fff"/><rect x="413.15" y="246.60" width="18.55" height="14.25" fill="#fff"/><rect x="430.90" y="246.60" width="18.55" height="14.25" fill="#fff"/><rect x="448.65" y="246.60" width="18.55" height="14.25" fill="#fff"/><rect x="466.40" y="246.60" width="18.55" height="14.25" fill="#fff"/><rect x="484.15" y="246.60" width="18.55" height="14.25" fill="#fff"/><rect x="501.90" y="246.60" width="18.55" height="14.25" fill="#fff"/><rect x="519.65" y="246.60" width="18.55" height="14.25" fill="#fff"/><g transform="translate(120.67,267.17)"><g class="cb"><circle cx="-3.6" cy="1.5" r="1.65"/><circle cx="-0.5" cy="-1.9" r="2.55"/><circle cx="3.2" cy="0.6" r="2.35"/><rect x="-3.6" y="0" width="6.8" height="3.15"/></g><g class="cw"><circle cx="-3.6" cy="1.5" r="1.65"/><circle cx="-0.5" cy="-1.9" r="2.55"/><circle cx="3.2" cy="0.6" r="2.35"/><rect x="-3.6" y="0" width="6.8" height="3.15"/></g><circle cx="-0.3" cy="-1.8" r="0.75" fill="#222"/><path d="M-0.15,-0.7 L-0.15,2.0" class="cm"/></g><g transform="translate(138.43,267.17)"><g class="cb"><circle cx="-3.6" cy="1.5" r="1.65"/><circle cx="-0.5" cy="-1.9" r="2.55"/><circle cx="3.2" cy="0.6" r="2.35"/><rect x="-3.6" y="0" width="6.8" height="3.15"/></g><g class="cw"><circle cx="-3.6" cy="1.5" r="1.65"/><circle cx="-0.5" cy="-1.9" r="2.55"/><circle cx="3.2" cy="0.6" r="2.35"/><rect x="-3.6" y="0" width="6.8" height="3.15"/></g><circle cx="-0.3" cy="-1.8" r="0.75" fill="#222"/><path d="M-0.15,-0.7 L-0.15,2.0" class="cm"/></g><rect x="146.90" y="260.05" width="18.55" height="14.25" fill="#fff"/><g transform="translate(173.93,267.17)"><g class="cb"><circle cx="-3.6" cy="1.5" r="1.65"/><circle cx="-0.5" cy="-1.9" r="2.55"/><circle cx="3.2" cy="0.6" r="2.35"/><rect x="-3.6" y="0" width="6.8" height="3.15"/></g><g class="cw"><circle cx="-3.6" cy="1.5" r="1.65"/><circle cx="-0.5" cy="-1.9" r="2.55"/><circle cx="3.2" cy="0.6" r="2.35"/><rect x="-3.6" y="0" width="6.8" height="3.15"/></g><circle cx="-0.3" cy="-1.8" r="0.75" fill="#222"/><path d="M-0.15,-0.7 L-0.15,2.0" class="cm"/></g><rect x="182.40" y="260.05" width="18.55" height="14.25" fill="#fff"/><rect x="200.15" y="260.05" width="18.55" height="14.25" fill="#fff"/><rect x="217.90" y="260.05" width="18.55" height="14.25" fill="#fff"/><rect x="235.65" y="260.05" width="18.55" height="14.25" fill="#fff"/><rect x="253.40" y="260.05" width="18.55" height="14.25" fill="#fff"/><rect x="271.15" y="260.05" width="18.55" height="14.25" fill="#fff"/><rect x="288.90" y="260.05" width="18.55" height="14.25" fill="#fff"/><rect x="306.65" y="260.05" width="18.55" height="14.25" fill="#fff"/><rect x="324.40" y="260.05" width="18.55" height="14.25" fill="#fff"/><rect x="342.15" y="260.05" width="18.55" height="14.25" fill="#fff"/><rect x="359.90" y="260.05" width="18.55" height="14.25" fill="#fff"/><rect x="377.65" y="260.05" width="18.55" height="14.25" fill="#fff"/><rect x="395.40" y="260.05" width="18.55" height="14.25" fill="#fff"/><rect x="413.15" y="260.05" width="18.55" height="14.25" fill="#fff"/><rect x="430.90" y="260.05" width="18.55" height="14.25" fill="#fff"/><rect x="448.65" y="260.05" width="18.55" height="14.25" fill="#fff"/><rect x="466.40" y="260.05" width="18.55" height="14.25" fill="#fff"/><rect x="484.15" y="260.05" width="18.55" height="14.25" fill="#fff"/><rect x="501.90" y="260.05" width="18.55" height="14.25" fill="#fff"/><rect x="519.65" y="260.05" width="18.55" height="14.25" fill="#fff"/><rect x="555.15" y="260.05" width="18.55" height="14.25" fill="#fff"/><rect x="572.90" y="260.05" width="18.55" height="14.25" fill="#fff"/><g transform="translate(120.67,280.62)"><g class="cb"><circle cx="-3.6" cy="1.5" r="1.65"/><circle cx="-0.5" cy="-1.9" r="2.55"/><circle cx="3.2" cy="0.6" r="2.35"/><rect x="-3.6" y="0" width="6.8" height="3.15"/></g><g class="cw"><circle cx="-3.6" cy="1.5" r="1.65"/><circle cx="-0.5" cy="-1.9" r="2.55"/><circle cx="3.2" cy="0.6" r="2.35"/><rect x="-3.6" y="0" width="6.8" height="3.15"/></g><circle cx="-0.3" cy="-1.8" r="0.75" fill="#222"/><path d="M-0.15,-0.7 L-0.15,2.0" class="cm"/></g><g transform="translate(138.43,280.62)"><g class="cb"><circle cx="-3.6" cy="1.5" r="1.65"/><circle cx="-0.5" cy="-1.9" r="2.55"/><circle cx="3.2" cy="0.6" r="2.35"/><rect x="-3.6" y="0" width="6.8" height="3.15"/></g><g class="cw"><circle cx="-3.6" cy="1.5" r="1.65"/><circle cx="-0.5" cy="-1.9" r="2.55"/><circle cx="3.2" cy="0.6" r="2.35"/><rect x="-3.6" y="0" width="6.8" height="3.15"/></g><circle cx="-0.3" cy="-1.8" r="0.75" fill="#222"/><path d="M-0.15,-0.7 L-0.15,2.0" class="cm"/></g><g transform="translate(156.18,280.62)"><g class="cb"><circle cx="-3.6" cy="1.5" r="1.65"/><circle cx="-0.5" cy="-1.9" r="2.55"/><circle cx="3.2" cy="0.6" r="2.35"/><rect x="-3.6" y="0" width="6.8" height="3.15"/></g><g class="cw"><circle cx="-3.6" cy="1.5" r="1.65"/><circle cx="-0.5" cy="-1.9" r="2.55"/><circle cx="3.2" cy="0.6" r="2.35"/><rect x="-3.6" y="0" width="6.8" height="3.15"/></g><circle cx="-0.3" cy="-1.8" r="0.75" fill="#222"/><path d="M-0.15,-0.7 L-0.15,2.0" class="cm"/></g><g transform="translate(173.93,280.62)"><g class="cb"><circle cx="-3.6" cy="1.5" r="1.65"/><circle cx="-0.5" cy="-1.9" r="2.55"/><circle cx="3.2" cy="0.6" r="2.35"/><rect x="-3.6" y="0" width="6.8" height="3.15"/></g><g class="cw"><circle cx="-3.6" cy="1.5" r="1.65"/><circle cx="-0.5" cy="-1.9" r="2.55"/><circle cx="3.2" cy="0.6" r="2.35"/><rect x="-3.6" y="0" width="6.8" height="3.15"/></g><circle cx="-0.3" cy="-1.8" r="0.75" fill="#222"/><path d="M-0.15,-0.7 L-0.15,2.0" class="cm"/></g><g transform="translate(191.68,280.62)"><g class="cb"><circle cx="-3.6" cy="1.5" r="1.65"/><circle cx="-0.5" cy="-1.9" r="2.55"/><circle cx="3.2" cy="0.6" r="2.35"/><rect x="-3.6" y="0" width="6.8" height="3.15"/></g><g class="cw"><circle cx="-3.6" cy="1.5" r="1.65"/><circle cx="-0.5" cy="-1.9" r="2.55"/><circle cx="3.2" cy="0.6" r="2.35"/><rect x="-3.6" y="0" width="6.8" height="3.15"/></g><circle cx="-0.3" cy="-1.8" r="0.75" fill="#222"/><path d="M-0.15,-0.7 L-0.15,2.0" class="cm"/></g><rect x="200.15" y="273.50" width="18.55" height="14.25" fill="#fff"/><rect x="217.90" y="273.50" width="18.55" height="14.25" fill="#fff"/><rect x="235.65" y="273.50" width="18.55" height="14.25" fill="#fff"/><rect x="253.40" y="273.50" width="18.55" height="14.25" fill="#fff"/><rect x="271.15" y="273.50" width="18.55" height="14.25" fill="#fff"/><rect x="288.90" y="273.50" width="18.55" height="14.25" fill="#fff"/><rect x="306.65" y="273.50" width="18.55" height="14.25" fill="#fff"/><rect x="324.40" y="273.50" width="18.55" height="14.25" fill="#fff"/><rect x="342.15" y="273.50" width="18.55" height="14.25" fill="#fff"/><rect x="359.90" y="273.50" width="18.55" height="14.25" fill="#fff"/><rect x="377.65" y="273.50" width="18.55" height="14.25" fill="#fff"/><rect x="395.40" y="273.50" width="18.55" height="14.25" fill="#fff"/><rect x="413.15" y="273.50" width="18.55" height="14.25" fill="#fff"/><rect x="430.90" y="273.50" width="18.55" height="14.25" fill="#fff"/><rect x="448.65" y="273.50" width="18.55" height="14.25" fill="#fff"/><rect x="466.40" y="273.50" width="18.55" height="14.25" fill="#fff"/><rect x="484.15" y="273.50" width="18.55" height="14.25" fill="#fff"/><rect x="501.90" y="273.50" width="18.55" height="14.25" fill="#fff"/><rect x="519.65" y="273.50" width="18.55" height="14.25" fill="#fff"/><rect x="537.40" y="273.50" width="18.55" height="14.25" fill="#fff"/><rect x="555.15" y="273.50" width="18.55" height="14.25" fill="#fff"/><g transform="translate(120.67,294.07)"><g class="cb"><circle cx="-3.6" cy="1.5" r="1.65"/><circle cx="-0.5" cy="-1.9" r="2.55"/><circle cx="3.2" cy="0.6" r="2.35"/><rect x="-3.6" y="0" width="6.8" height="3.15"/></g><g class="cw"><circle cx="-3.6" cy="1.5" r="1.65"/><circle cx="-0.5" cy="-1.9" r="2.55"/><circle cx="3.2" cy="0.6" r="2.35"/><rect x="-3.6" y="0" width="6.8" height="3.15"/></g><circle cx="-0.3" cy="-1.8" r="0.75" fill="#222"/><path d="M-0.15,-0.7 L-0.15,2.0" class="cm"/></g><g transform="translate(138.43,294.07)"><g class="cb"><circle cx="-3.6" cy="1.5" r="1.65"/><circle cx="-0.5" cy="-1.9" r="2.55"/><circle cx="3.2" cy="0.6" r="2.35"/><rect x="-3.6" y="0" width="6.8" height="3.15"/></g><g class="cw"><circle cx="-3.6" cy="1.5" r="1.65"/><circle cx="-0.5" cy="-1.9" r="2.55"/><circle cx="3.2" cy="0.6" r="2.35"/><rect x="-3.6" y="0" width="6.8" height="3.15"/></g><circle cx="-0.3" cy="-1.8" r="0.75" fill="#222"/><path d="M-0.15,-0.7 L-0.15,2.0" class="cm"/></g><g transform="translate(156.18,294.07)"><g class="cb"><circle cx="-3.6" cy="1.5" r="1.65"/><circle cx="-0.5" cy="-1.9" r="2.55"/><circle cx="3.2" cy="0.6" r="2.35"/><rect x="-3.6" y="0" width="6.8" height="3.15"/></g><g class="cw"><circle cx="-3.6" cy="1.5" r="1.65"/><circle cx="-0.5" cy="-1.9" r="2.55"/><circle cx="3.2" cy="0.6" r="2.35"/><rect x="-3.6" y="0" width="6.8" height="3.15"/></g><circle cx="-0.3" cy="-1.8" r="0.75" fill="#222"/><path d="M-0.15,-0.7 L-0.15,2.0" class="cm"/></g><g transform="translate(173.93,294.07)"><g class="cb"><circle cx="-3.6" cy="1.5" r="1.65"/><circle cx="-0.5" cy="-1.9" r="2.55"/><circle cx="3.2" cy="0.6" r="2.35"/><rect x="-3.6" y="0" width="6.8" height="3.15"/></g><g class="cw"><circle cx="-3.6" cy="1.5" r="1.65"/><circle cx="-0.5" cy="-1.9" r="2.55"/><circle cx="3.2" cy="0.6" r="2.35"/><rect x="-3.6" y="0" width="6.8" height="3.15"/></g><circle cx="-0.3" cy="-1.8" r="0.75" fill="#222"/><path d="M-0.15,-0.7 L-0.15,2.0" class="cm"/></g><g transform="translate(191.68,294.07)"><g class="cb"><circle cx="-3.6" cy="1.5" r="1.65"/><circle cx="-0.5" cy="-1.9" r="2.55"/><circle cx="3.2" cy="0.6" r="2.35"/><rect x="-3.6" y="0" width="6.8" height="3.15"/></g><g class="cw"><circle cx="-3.6" cy="1.5" r="1.65"/><circle cx="-0.5" cy="-1.9" r="2.55"/><circle cx="3.2" cy="0.6" r="2.35"/><rect x="-3.6" y="0" width="6.8" height="3.15"/></g><circle cx="-0.3" cy="-1.8" r="0.75" fill="#222"/><path d="M-0.15,-0.7 L-0.15,2.0" class="cm"/></g><g transform="translate(209.43,294.07)"><g class="cb"><circle cx="-3.6" cy="1.5" r="1.65"/><circle cx="-0.5" cy="-1.9" r="2.55"/><circle cx="3.2" cy="0.6" r="2.35"/><rect x="-3.6" y="0" width="6.8" height="3.15"/></g><g class="cw"><circle cx="-3.6" cy="1.5" r="1.65"/><circle cx="-0.5" cy="-1.9" r="2.55"/><circle cx="3.2" cy="0.6" r="2.35"/><rect x="-3.6" y="0" width="6.8" height="3.15"/></g><circle cx="-0.3" cy="-1.8" r="0.75" fill="#222"/><path d="M-0.15,-0.7 L-0.15,2.0" class="cm"/></g><rect x="217.90" y="286.95" width="18.55" height="14.25" fill="#fff"/><rect x="235.65" y="286.95" width="18.55" height="14.25" fill="#fff"/><rect x="253.40" y="286.95" width="18.55" height="14.25" fill="#fff"/><rect x="271.15" y="286.95" width="18.55" height="14.25" fill="#fff"/><rect x="288.90" y="286.95" width="18.55" height="14.25" fill="#fff"/><rect x="306.65" y="286.95" width="18.55" height="14.25" fill="#fff"/><rect x="324.40" y="286.95" width="18.55" height="14.25" fill="#fff"/><rect x="342.15" y="286.95" width="18.55" height="14.25" fill="#fff"/><rect x="359.90" y="286.95" width="18.55" height="14.25" fill="#fff"/><rect x="377.65" y="286.95" width="18.55" height="14.25" fill="#fff"/><rect x="395.40" y="286.95" width="18.55" height="14.25" fill="#fff"/><rect x="413.15" y="286.95" width="18.55" height="14.25" fill="#fff"/><rect x="430.90" y="286.95" width="18.55" height="14.25" fill="#fff"/><rect x="448.65" y="286.95" width="18.55" height="14.25" fill="#fff"/><rect x="466.40" y="286.95" width="18.55" height="14.25" fill="#fff"/><rect x="484.15" y="286.95" width="18.55" height="14.25" fill="#fff"/><rect x="501.90" y="286.95" width="18.55" height="14.25" fill="#fff"/><rect x="519.65" y="286.95" width="18.55" height="14.25" fill="#fff"/><rect x="537.40" y="286.95" width="18.55" height="14.25" fill="#fff"/><rect x="555.15" y="286.95" width="18.55" height="14.25" fill="#fff"/><rect x="572.90" y="286.95" width="18.55" height="14.25" fill="#fff"/><g transform="translate(120.67,307.52)"><g class="cb"><circle cx="-3.6" cy="1.5" r="1.65"/><circle cx="-0.5" cy="-1.9" r="2.55"/><circle cx="3.2" cy="0.6" r="2.35"/><rect x="-3.6" y="0" width="6.8" height="3.15"/></g><g class="cw"><circle cx="-3.6" cy="1.5" r="1.65"/><circle cx="-0.5" cy="-1.9" r="2.55"/><circle cx="3.2" cy="0.6" r="2.35"/><rect x="-3.6" y="0" width="6.8" height="3.15"/></g><circle cx="-0.3" cy="-1.8" r="0.75" fill="#222"/><path d="M-0.15,-0.7 L-0.15,2.0" class="cm"/></g><g transform="translate(138.43,307.52)"><g class="cb"><circle cx="-3.6" cy="1.5" r="1.65"/><circle cx="-0.5" cy="-1.9" r="2.55"/><circle cx="3.2" cy="0.6" r="2.35"/><rect x="-3.6" y="0" width="6.8" height="3.15"/></g><g class="cw"><circle cx="-3.6" cy="1.5" r="1.65"/><circle cx="-0.5" cy="-1.9" r="2.55"/><circle cx="3.2" cy="0.6" r="2.35"/><rect x="-3.6" y="0" width="6.8" height="3.15"/></g><circle cx="-0.3" cy="-1.8" r="0.75" fill="#222"/><path d="M-0.15,-0.7 L-0.15,2.0" class="cm"/></g><g transform="translate(156.18,307.52)"><g class="cb"><circle cx="-3.6" cy="1.5" r="1.65"/><circle cx="-0.5" cy="-1.9" r="2.55"/><circle cx="3.2" cy="0.6" r="2.35"/><rect x="-3.6" y="0" width="6.8" height="3.15"/></g><g class="cw"><circle cx="-3.6" cy="1.5" r="1.65"/><circle cx="-0.5" cy="-1.9" r="2.55"/><circle cx="3.2" cy="0.6" r="2.35"/><rect x="-3.6" y="0" width="6.8" height="3.15"/></g><circle cx="-0.3" cy="-1.8" r="0.75" fill="#222"/><path d="M-0.15,-0.7 L-0.15,2.0" class="cm"/></g><g transform="translate(173.93,307.52)"><g class="cb"><circle cx="-3.6" cy="1.5" r="1.65"/><circle cx="-0.5" cy="-1.9" r="2.55"/><circle cx="3.2" cy="0.6" r="2.35"/><rect x="-3.6" y="0" width="6.8" height="3.15"/></g><g class="cw"><circle cx="-3.6" cy="1.5" r="1.65"/><circle cx="-0.5" cy="-1.9" r="2.55"/><circle cx="3.2" cy="0.6" r="2.35"/><rect x="-3.6" y="0" width="6.8" height="3.15"/></g><circle cx="-0.3" cy="-1.8" r="0.75" fill="#222"/><path d="M-0.15,-0.7 L-0.15,2.0" class="cm"/></g><g transform="translate(191.68,307.52)"><g class="cb"><circle cx="-3.6" cy="1.5" r="1.65"/><circle cx="-0.5" cy="-1.9" r="2.55"/><circle cx="3.2" cy="0.6" r="2.35"/><rect x="-3.6" y="0" width="6.8" height="3.15"/></g><g class="cw"><circle cx="-3.6" cy="1.5" r="1.65"/><circle cx="-0.5" cy="-1.9" r="2.55"/><circle cx="3.2" cy="0.6" r="2.35"/><rect x="-3.6" y="0" width="6.8" height="3.15"/></g><circle cx="-0.3" cy="-1.8" r="0.75" fill="#222"/><path d="M-0.15,-0.7 L-0.15,2.0" class="cm"/></g><rect x="200.15" y="300.40" width="18.55" height="14.25" fill="#fff"/><rect x="217.90" y="300.40" width="18.55" height="14.25" fill="#fff"/><rect x="235.65" y="300.40" width="18.55" height="14.25" fill="#fff"/><rect x="253.40" y="300.40" width="18.55" height="14.25" fill="#fff"/><rect x="271.15" y="300.40" width="18.55" height="14.25" fill="#fff"/><rect x="288.90" y="300.40" width="18.55" height="14.25" fill="#fff"/><rect x="306.65" y="300.40" width="18.55" height="14.25" fill="#fff"/><rect x="324.40" y="300.40" width="18.55" height="14.25" fill="#fff"/><rect x="342.15" y="300.40" width="18.55" height="14.25" fill="#fff"/><rect x="359.90" y="300.40" width="18.55" height="14.25" fill="#fff"/><rect x="377.65" y="300.40" width="18.55" height="14.25" fill="#fff"/><rect x="395.40" y="300.40" width="18.55" height="14.25" fill="#fff"/><rect x="413.15" y="300.40" width="18.55" height="14.25" fill="#fff"/><rect x="430.90" y="300.40" width="18.55" height="14.25" fill="#fff"/><rect x="448.65" y="300.40" width="18.55" height="14.25" fill="#fff"/><rect x="466.40" y="300.40" width="18.55" height="14.25" fill="#fff"/><rect x="484.15" y="300.40" width="18.55" height="14.25" fill="#fff"/><rect x="501.90" y="300.40" width="18.55" height="14.25" fill="#fff"/><rect x="519.65" y="300.40" width="18.55" height="14.25" fill="#fff"/><rect x="537.40" y="300.40" width="18.55" height="14.25" fill="#fff"/><rect x="555.15" y="300.40" width="18.55" height="14.25" fill="#fff"/><rect x="572.90" y="300.40" width="18.55" height="14.25" fill="#fff"/><g transform="translate(120.67,320.98)"><g class="cb"><circle cx="-3.6" cy="1.5" r="1.65"/><circle cx="-0.5" cy="-1.9" r="2.55"/><circle cx="3.2" cy="0.6" r="2.35"/><rect x="-3.6" y="0" width="6.8" height="3.15"/></g><g class="cw"><circle cx="-3.6" cy="1.5" r="1.65"/><circle cx="-0.5" cy="-1.9" r="2.55"/><circle cx="3.2" cy="0.6" r="2.35"/><rect x="-3.6" y="0" width="6.8" height="3.15"/></g><circle cx="-0.3" cy="-1.8" r="0.75" fill="#222"/><path d="M-0.15,-0.7 L-0.15,2.0" class="cm"/></g><g transform="translate(138.43,320.98)"><g class="cb"><circle cx="-3.6" cy="1.5" r="1.65"/><circle cx="-0.5" cy="-1.9" r="2.55"/><circle cx="3.2" cy="0.6" r="2.35"/><rect x="-3.6" y="0" width="6.8" height="3.15"/></g><g class="cw"><circle cx="-3.6" cy="1.5" r="1.65"/><circle cx="-0.5" cy="-1.9" r="2.55"/><circle cx="3.2" cy="0.6" r="2.35"/><rect x="-3.6" y="0" width="6.8" height="3.15"/></g><circle cx="-0.3" cy="-1.8" r="0.75" fill="#222"/><path d="M-0.15,-0.7 L-0.15,2.0" class="cm"/></g><g transform="translate(156.18,320.98)"><g class="cb"><circle cx="-3.6" cy="1.5" r="1.65"/><circle cx="-0.5" cy="-1.9" r="2.55"/><circle cx="3.2" cy="0.6" r="2.35"/><rect x="-3.6" y="0" width="6.8" height="3.15"/></g><g class="cw"><circle cx="-3.6" cy="1.5" r="1.65"/><circle cx="-0.5" cy="-1.9" r="2.55"/><circle cx="3.2" cy="0.6" r="2.35"/><rect x="-3.6" y="0" width="6.8" height="3.15"/></g><circle cx="-0.3" cy="-1.8" r="0.75" fill="#222"/><path d="M-0.15,-0.7 L-0.15,2.0" class="cm"/></g><g transform="translate(173.93,320.98)"><g class="cb"><circle cx="-3.6" cy="1.5" r="1.65"/><circle cx="-0.5" cy="-1.9" r="2.55"/><circle cx="3.2" cy="0.6" r="2.35"/><rect x="-3.6" y="0" width="6.8" height="3.15"/></g><g class="cw"><circle cx="-3.6" cy="1.5" r="1.65"/><circle cx="-0.5" cy="-1.9" r="2.55"/><circle cx="3.2" cy="0.6" r="2.35"/><rect x="-3.6" y="0" width="6.8" height="3.15"/></g><circle cx="-0.3" cy="-1.8" r="0.75" fill="#222"/><path d="M-0.15,-0.7 L-0.15,2.0" class="cm"/></g><g transform="translate(191.68,320.98)"><g class="cb"><circle cx="-3.6" cy="1.5" r="1.65"/><circle cx="-0.5" cy="-1.9" r="2.55"/><circle cx="3.2" cy="0.6" r="2.35"/><rect x="-3.6" y="0" width="6.8" height="3.15"/></g><g class="cw"><circle cx="-3.6" cy="1.5" r="1.65"/><circle cx="-0.5" cy="-1.9" r="2.55"/><circle cx="3.2" cy="0.6" r="2.35"/><rect x="-3.6" y="0" width="6.8" height="3.15"/></g><circle cx="-0.3" cy="-1.8" r="0.75" fill="#222"/><path d="M-0.15,-0.7 L-0.15,2.0" class="cm"/></g><rect x="200.15" y="313.85" width="18.55" height="14.25" fill="#fff"/><rect x="217.90" y="313.85" width="18.55" height="14.25" fill="#fff"/><rect x="235.65" y="313.85" width="18.55" height="14.25" fill="#fff"/><rect x="253.40" y="313.85" width="18.55" height="14.25" fill="#fff"/><rect x="271.15" y="313.85" width="18.55" height="14.25" fill="#fff"/><rect x="288.90" y="313.85" width="18.55" height="14.25" fill="#fff"/><rect x="306.65" y="313.85" width="18.55" height="14.25" fill="#fff"/><rect x="324.40" y="313.85" width="18.55" height="14.25" fill="#fff"/><rect x="342.15" y="313.85" width="18.55" height="14.25" fill="#fff"/><rect x="359.90" y="313.85" width="18.55" height="14.25" fill="#fff"/><rect x="377.65" y="313.85" width="18.55" height="14.25" fill="#fff"/><rect x="395.40" y="313.85" width="18.55" height="14.25" fill="#fff"/><rect x="413.15" y="313.85" width="18.55" height="14.25" fill="#fff"/><rect x="430.90" y="313.85" width="18.55" height="14.25" fill="#fff"/><rect x="448.65" y="313.85" width="18.55" height="14.25" fill="#fff"/><rect x="466.40" y="313.85" width="18.55" height="14.25" fill="#fff"/><rect x="484.15" y="313.85" width="18.55" height="14.25" fill="#fff"/><rect x="501.90" y="313.85" width="18.55" height="14.25" fill="#fff"/><rect x="519.65" y="313.85" width="18.55" height="14.25" fill="#fff"/><rect x="537.40" y="313.85" width="18.55" height="14.25" fill="#fff"/><rect x="93.65" y="327.30" width="18.55" height="14.25" fill="#fff"/><g transform="translate(120.67,334.42)"><g class="cb"><circle cx="-3.6" cy="1.5" r="1.65"/><circle cx="-0.5" cy="-1.9" r="2.55"/><circle cx="3.2" cy="0.6" r="2.35"/><rect x="-3.6" y="0" width="6.8" height="3.15"/></g><g class="cw"><circle cx="-3.6" cy="1.5" r="1.65"/><circle cx="-0.5" cy="-1.9" r="2.55"/><circle cx="3.2" cy="0.6" r="2.35"/><rect x="-3.6" y="0" width="6.8" height="3.15"/></g><circle cx="-0.3" cy="-1.8" r="0.75" fill="#222"/><path d="M-0.15,-0.7 L-0.15,2.0" class="cm"/></g><g transform="translate(138.43,334.42)"><g class="cb"><circle cx="-3.6" cy="1.5" r="1.65"/><circle cx="-0.5" cy="-1.9" r="2.55"/><circle cx="3.2" cy="0.6" r="2.35"/><rect x="-3.6" y="0" width="6.8" height="3.15"/></g><g class="cw"><circle cx="-3.6" cy="1.5" r="1.65"/><circle cx="-0.5" cy="-1.9" r="2.55"/><circle cx="3.2" cy="0.6" r="2.35"/><rect x="-3.6" y="0" width="6.8" height="3.15"/></g><circle cx="-0.3" cy="-1.8" r="0.75" fill="#222"/><path d="M-0.15,-0.7 L-0.15,2.0" class="cm"/></g><g transform="translate(156.18,334.42)"><g class="cb"><circle cx="-3.6" cy="1.5" r="1.65"/><circle cx="-0.5" cy="-1.9" r="2.55"/><circle cx="3.2" cy="0.6" r="2.35"/><rect x="-3.6" y="0" width="6.8" height="3.15"/></g><g class="cw"><circle cx="-3.6" cy="1.5" r="1.65"/><circle cx="-0.5" cy="-1.9" r="2.55"/><circle cx="3.2" cy="0.6" r="2.35"/><rect x="-3.6" y="0" width="6.8" height="3.15"/></g><circle cx="-0.3" cy="-1.8" r="0.75" fill="#222"/><path d="M-0.15,-0.7 L-0.15,2.0" class="cm"/></g><g transform="translate(173.93,334.42)"><g class="cb"><circle cx="-3.6" cy="1.5" r="1.65"/><circle cx="-0.5" cy="-1.9" r="2.55"/><circle cx="3.2" cy="0.6" r="2.35"/><rect x="-3.6" y="0" width="6.8" height="3.15"/></g><g class="cw"><circle cx="-3.6" cy="1.5" r="1.65"/><circle cx="-0.5" cy="-1.9" r="2.55"/><circle cx="3.2" cy="0.6" r="2.35"/><rect x="-3.6" y="0" width="6.8" height="3.15"/></g><circle cx="-0.3" cy="-1.8" r="0.75" fill="#222"/><path d="M-0.15,-0.7 L-0.15,2.0" class="cm"/></g><rect x="182.40" y="327.30" width="18.55" height="14.25" fill="#fff"/><rect x="200.15" y="327.30" width="18.55" height="14.25" fill="#fff"/><rect x="217.90" y="327.30" width="18.55" height="14.25" fill="#fff"/><rect x="235.65" y="327.30" width="18.55" height="14.25" fill="#fff"/><rect x="253.40" y="327.30" width="18.55" height="14.25" fill="#fff"/><rect x="271.15" y="327.30" width="18.55" height="14.25" fill="#fff"/><rect x="288.90" y="327.30" width="18.55" height="14.25" fill="#fff"/><rect x="306.65" y="327.30" width="18.55" height="14.25" fill="#fff"/><rect x="324.40" y="327.30" width="18.55" height="14.25" fill="#fff"/><rect x="342.15" y="327.30" width="18.55" height="14.25" fill="#fff"/><rect x="359.90" y="327.30" width="18.55" height="14.25" fill="#fff"/><rect x="377.65" y="327.30" width="18.55" height="14.25" fill="#fff"/><rect x="395.40" y="327.30" width="18.55" height="14.25" fill="#fff"/><rect x="413.15" y="327.30" width="18.55" height="14.25" fill="#fff"/><rect x="430.90" y="327.30" width="18.55" height="14.25" fill="#fff"/><rect x="448.65" y="327.30" width="18.55" height="14.25" fill="#fff"/><rect x="466.40" y="327.30" width="18.55" height="14.25" fill="#fff"/><rect x="484.15" y="327.30" width="18.55" height="14.25" fill="#fff"/><rect x="501.90" y="327.30" width="18.55" height="14.25" fill="#fff"/><rect x="537.40" y="327.30" width="18.55" height="14.25" fill="#fff"/><rect x="572.90" y="327.30" width="18.55" height="14.25" fill="#fff"/><g transform="translate(120.67,347.88)"><g class="cb"><circle cx="-3.6" cy="1.5" r="1.65"/><circle cx="-0.5" cy="-1.9" r="2.55"/><circle cx="3.2" cy="0.6" r="2.35"/><rect x="-3.6" y="0" width="6.8" height="3.15"/></g><g class="cw"><circle cx="-3.6" cy="1.5" r="1.65"/><circle cx="-0.5" cy="-1.9" r="2.55"/><circle cx="3.2" cy="0.6" r="2.35"/><rect x="-3.6" y="0" width="6.8" height="3.15"/></g><circle cx="-0.3" cy="-1.8" r="0.75" fill="#222"/><path d="M-0.15,-0.7 L-0.15,2.0" class="cm"/></g><g transform="translate(138.43,347.88)"><g class="cb"><circle cx="-3.6" cy="1.5" r="1.65"/><circle cx="-0.5" cy="-1.9" r="2.55"/><circle cx="3.2" cy="0.6" r="2.35"/><rect x="-3.6" y="0" width="6.8" height="3.15"/></g><g class="cw"><circle cx="-3.6" cy="1.5" r="1.65"/><circle cx="-0.5" cy="-1.9" r="2.55"/><circle cx="3.2" cy="0.6" r="2.35"/><rect x="-3.6" y="0" width="6.8" height="3.15"/></g><circle cx="-0.3" cy="-1.8" r="0.75" fill="#222"/><path d="M-0.15,-0.7 L-0.15,2.0" class="cm"/></g><rect x="146.90" y="340.75" width="18.55" height="14.25" fill="#fff"/><rect x="164.65" y="340.75" width="18.55" height="14.25" fill="#fff"/><rect x="182.40" y="340.75" width="18.55" height="14.25" fill="#fff"/><rect x="200.15" y="340.75" width="18.55" height="14.25" fill="#fff"/><rect x="217.90" y="340.75" width="18.55" height="14.25" fill="#fff"/><rect x="235.65" y="340.75" width="18.55" height="14.25" fill="#fff"/><rect x="253.40" y="340.75" width="18.55" height="14.25" fill="#fff"/><rect x="271.15" y="340.75" width="18.55" height="14.25" fill="#fff"/><rect x="288.90" y="340.75" width="18.55" height="14.25" fill="#fff"/><rect x="306.65" y="340.75" width="18.55" height="14.25" fill="#fff"/><rect x="324.40" y="340.75" width="18.55" height="14.25" fill="#fff"/><rect x="342.15" y="340.75" width="18.55" height="14.25" fill="#fff"/><rect x="359.90" y="340.75" width="18.55" height="14.25" fill="#fff"/><rect x="377.65" y="340.75" width="18.55" height="14.25" fill="#fff"/><rect x="395.40" y="340.75" width="18.55" height="14.25" fill="#fff"/><rect x="413.15" y="340.75" width="18.55" height="14.25" fill="#fff"/><rect x="430.90" y="340.75" width="18.55" height="14.25" fill="#fff"/><rect x="448.65" y="340.75" width="18.55" height="14.25" fill="#fff"/><rect x="466.40" y="340.75" width="18.55" height="14.25" fill="#fff"/><rect x="484.15" y="340.75" width="18.55" height="14.25" fill="#fff"/><rect x="501.90" y="340.75" width="18.55" height="14.25" fill="#fff"/><rect x="572.90" y="340.75" width="18.55" height="14.25" fill="#fff"/><rect x="111.40" y="354.20" width="18.55" height="14.25" fill="#fff"/><rect x="129.15" y="354.20" width="18.55" height="14.25" fill="#fff"/><rect x="146.90" y="354.20" width="18.55" height="14.25" fill="#fff"/><rect x="164.65" y="354.20" width="18.55" height="14.25" fill="#fff"/><rect x="182.40" y="354.20" width="18.55" height="14.25" fill="#fff"/><rect x="200.15" y="354.20" width="18.55" height="14.25" fill="#fff"/><rect x="217.90" y="354.20" width="18.55" height="14.25" fill="#fff"/><rect x="235.65" y="354.20" width="18.55" height="14.25" fill="#fff"/><rect x="253.40" y="354.20" width="18.55" height="14.25" fill="#fff"/><rect x="271.15" y="354.20" width="18.55" height="14.25" fill="#fff"/><rect x="288.90" y="354.20" width="18.55" height="14.25" fill="#fff"/><rect x="306.65" y="354.20" width="18.55" height="14.25" fill="#fff"/><rect x="324.40" y="354.20" width="18.55" height="14.25" fill="#fff"/><rect x="342.15" y="354.20" width="18.55" height="14.25" fill="#fff"/><rect x="359.90" y="354.20" width="18.55" height="14.25" fill="#fff"/><rect x="377.65" y="354.20" width="18.55" height="14.25" fill="#fff"/><rect x="395.40" y="354.20" width="18.55" height="14.25" fill="#fff"/><rect x="413.15" y="354.20" width="18.55" height="14.25" fill="#fff"/><rect x="430.90" y="354.20" width="18.55" height="14.25" fill="#fff"/><rect x="448.65" y="354.20" width="18.55" height="14.25" fill="#fff"/><rect x="466.40" y="354.20" width="18.55" height="14.25" fill="#fff"/><rect x="484.15" y="354.20" width="18.55" height="14.25" fill="#fff"/><rect x="501.90" y="354.20" width="18.55" height="14.25" fill="#fff"/><rect x="129.15" y="367.65" width="18.55" height="14.25" fill="#fff"/><rect x="146.90" y="367.65" width="18.55" height="14.25" fill="#fff"/><rect x="164.65" y="367.65" width="18.55" height="14.25" fill="#fff"/><rect x="182.40" y="367.65" width="18.55" height="14.25" fill="#fff"/><rect x="200.15" y="367.65" width="18.55" height="14.25" fill="#fff"/><rect x="217.90" y="367.65" width="18.55" height="14.25" fill="#fff"/><rect x="235.65" y="367.65" width="18.55" height="14.25" fill="#fff"/><rect x="253.40" y="367.65" width="18.55" height="14.25" fill="#fff"/><rect x="271.15" y="367.65" width="18.55" height="14.25" fill="#fff"/><rect x="288.90" y="367.65" width="18.55" height="14.25" fill="#fff"/><rect x="306.65" y="367.65" width="18.55" height="14.25" fill="#fff"/><rect x="324.40" y="367.65" width="18.55" height="14.25" fill="#fff"/><rect x="342.15" y="367.65" width="18.55" height="14.25" fill="#fff"/><rect x="359.90" y="367.65" width="18.55" height="14.25" fill="#fff"/><rect x="377.65" y="367.65" width="18.55" height="14.25" fill="#fff"/><rect x="395.40" y="367.65" width="18.55" height="14.25" fill="#fff"/><rect x="413.15" y="367.65" width="18.55" height="14.25" fill="#fff"/><rect x="430.90" y="367.65" width="18.55" height="14.25" fill="#fff"/><rect x="448.65" y="367.65" width="18.55" height="14.25" fill="#fff"/><rect x="466.40" y="367.65" width="18.55" height="14.25" fill="#fff"/><rect x="484.15" y="367.65" width="18.55" height="14.25" fill="#fff"/><rect x="501.90" y="367.65" width="18.55" height="14.25" fill="#fff"/><rect x="519.65" y="367.65" width="18.55" height="14.25" fill="#fff"/><rect x="537.40" y="367.65" width="18.55" height="14.25" fill="#fff"/><rect x="555.15" y="367.65" width="18.55" height="14.25" fill="#fff"/><rect x="572.90" y="367.65" width="18.55" height="14.25" fill="#fff"/><rect x="129.15" y="381.10" width="18.55" height="14.25" fill="#fff"/><rect x="146.90" y="381.10" width="18.55" height="14.25" fill="#fff"/><rect x="164.65" y="381.10" width="18.55" height="14.25" fill="#fff"/><rect x="182.40" y="381.10" width="18.55" height="14.25" fill="#fff"/><rect x="200.15" y="381.10" width="18.55" height="14.25" fill="#fff"/><rect x="217.90" y="381.10" width="18.55" height="14.25" fill="#fff"/><rect x="235.65" y="381.10" width="18.55" height="14.25" fill="#fff"/><rect x="253.40" y="381.10" width="18.55" height="14.25" fill="#fff"/><rect x="271.15" y="381.10" width="18.55" height="14.25" fill="#fff"/><rect x="288.90" y="381.10" width="18.55" height="14.25" fill="#fff"/><rect x="306.65" y="381.10" width="18.55" height="14.25" fill="#fff"/><rect x="324.40" y="381.10" width="18.55" height="14.25" fill="#fff"/><rect x="342.15" y="381.10" width="18.55" height="14.25" fill="#fff"/><rect x="359.90" y="381.10" width="18.55" height="14.25" fill="#fff"/><rect x="377.65" y="381.10" width="18.55" height="14.25" fill="#fff"/><rect x="395.40" y="381.10" width="18.55" height="14.25" fill="#fff"/><rect x="413.15" y="381.10" width="18.55" height="14.25" fill="#fff"/><rect x="430.90" y="381.10" width="18.55" height="14.25" fill="#fff"/><rect x="448.65" y="381.10" width="18.55" height="14.25" fill="#fff"/><rect x="466.40" y="381.10" width="18.55" height="14.25" fill="#fff"/><rect x="484.15" y="381.10" width="18.55" height="14.25" fill="#fff"/><rect x="501.90" y="381.10" width="18.55" height="14.25" fill="#fff"/><rect x="502.80" y="180.25" width="16.75" height="12.45" fill="#ffff00"/><rect x="431.80" y="193.70" width="16.75" height="12.45" fill="#10d2d4"/><rect x="449.55" y="193.70" width="16.75" height="12.45" fill="#10d2d4"/><rect x="467.30" y="193.70" width="16.75" height="12.45" fill="#10d2d4"/><rect x="485.05" y="193.70" width="16.75" height="12.45" fill="#10f396"/><rect x="502.80" y="193.70" width="16.75" height="12.45" fill="#ffff00"/><rect x="272.05" y="207.15" width="16.75" height="12.45" fill="#ffff00"/><rect x="289.80" y="207.15" width="16.75" height="12.45" fill="#ffff00"/><rect x="360.80" y="207.15" width="16.75" height="12.45" fill="#10d2d4"/><rect x="378.55" y="207.15" width="16.75" height="12.45" fill="#10d2d4"/><rect x="396.30" y="207.15" width="16.75" height="12.45" fill="#10d2d4"/><rect x="414.05" y="207.15" width="16.75" height="12.45" fill="#6796ef"/><rect x="431.80" y="207.15" width="16.75" height="12.45" fill="#6796ef"/><rect x="449.55" y="207.15" width="16.75" height="12.45" fill="#10d2d4"/><rect x="467.30" y="207.15" width="16.75" height="12.45" fill="#6796ef"/><rect x="485.05" y="207.15" width="16.75" height="12.45" fill="#64c9a3"/><rect x="502.80" y="207.15" width="16.75" height="12.45" fill="#10f396"/><rect x="201.05" y="220.60" width="16.75" height="12.45" fill="#ffff00"/><rect x="218.80" y="220.60" width="16.75" height="12.45" fill="#f8d7b5"/><rect x="236.55" y="220.60" width="16.75" height="12.45" fill="#f8d7b5"/><rect x="254.30" y="220.60" width="16.75" height="12.45" fill="#ffff00"/><rect x="272.05" y="220.60" width="16.75" height="12.45" fill="#10f396"/><rect x="289.80" y="220.60" width="16.75" height="12.45" fill="#ffff00"/><rect x="325.30" y="220.60" width="16.75" height="12.45" fill="#10d2d4"/><rect x="343.05" y="220.60" width="16.75" height="12.45" fill="#0c16ee"/><rect x="360.80" y="220.60" width="16.75" height="12.45" fill="#6796ef"/><rect x="378.55" y="220.60" width="16.75" height="12.45" fill="#6796ef"/><rect x="396.30" y="220.60" width="16.75" height="12.45" fill="#6796ef"/><rect x="414.05" y="220.60" width="16.75" height="12.45" fill="#0c16ee"/><rect x="431.80" y="220.60" width="16.75" height="12.45" fill="#0c16ee"/><rect x="449.55" y="220.60" width="16.75" height="12.45" fill="#6796ef"/><rect x="467.30" y="220.60" width="16.75" height="12.45" fill="#6796ef"/><rect x="485.05" y="220.60" width="16.75" height="12.45" fill="#64c9a3"/><rect x="502.80" y="220.60" width="16.75" height="12.45" fill="#10f396"/><rect x="147.80" y="234.05" width="16.75" height="12.45" fill="#f8d7b5"/><rect x="165.55" y="234.05" width="16.75" height="12.45" fill="#f8d7b5"/><rect x="183.30" y="234.05" width="16.75" height="12.45" fill="#ffff00"/><rect x="201.05" y="234.05" width="16.75" height="12.45" fill="#ffff00"/><rect x="218.80" y="234.05" width="16.75" height="12.45" fill="#f8d7b5"/><rect x="236.55" y="234.05" width="16.75" height="12.45" fill="#ffff00"/><rect x="254.30" y="234.05" width="16.75" height="12.45" fill="#ffff00"/><rect x="272.05" y="234.05" width="16.75" height="12.45" fill="#10f396"/><rect x="289.80" y="234.05" width="16.75" height="12.45" fill="#10f396"/><rect x="307.55" y="234.05" width="16.75" height="12.45" fill="#6796ef"/><rect x="325.30" y="234.05" width="16.75" height="12.45" fill="#6796ef"/><rect x="343.05" y="234.05" width="16.75" height="12.45" fill="#0c16ee"/><rect x="360.80" y="234.05" width="16.75" height="12.45" fill="#0c16ee"/><rect x="378.55" y="234.05" width="16.75" height="12.45" fill="#0c16ee"/><rect x="396.30" y="234.05" width="16.75" height="12.45" fill="#6796ef"/><rect x="414.05" y="234.05" width="16.75" height="12.45" fill="#0c16ee"/><rect x="431.80" y="234.05" width="16.75" height="12.45" fill="#0c16ee"/><rect x="449.55" y="234.05" width="16.75" height="12.45" fill="#6796ef"/><rect x="467.30" y="234.05" width="16.75" height="12.45" fill="#6796ef"/><rect x="485.05" y="234.05" width="16.75" height="12.45" fill="#64c9a3"/><rect x="502.80" y="234.05" width="16.75" height="12.45" fill="#10f396"/><rect x="520.55" y="234.05" width="16.75" height="12.45" fill="#f8d7b5"/><rect x="130.05" y="247.50" width="16.75" height="12.45" fill="#f8d7b5"/><rect x="147.80" y="247.50" width="16.75" height="12.45" fill="#f8d7b5"/><rect x="165.55" y="247.50" width="16.75" height="12.45" fill="#10f396"/><rect x="183.30" y="247.50" width="16.75" height="12.45" fill="#10f396"/><rect x="201.05" y="247.50" width="16.75" height="12.45" fill="#10f396"/><rect x="218.80" y="247.50" width="16.75" height="12.45" fill="#ffff00"/><rect x="236.55" y="247.50" width="16.75" height="12.45" fill="#ffff00"/><rect x="254.30" y="247.50" width="16.75" height="12.45" fill="#ffff00"/><rect x="272.05" y="247.50" width="16.75" height="12.45" fill="#10f396"/><rect x="289.80" y="247.50" width="16.75" height="12.45" fill="#10f396"/><rect x="307.55" y="247.50" width="16.75" height="12.45" fill="#6796ef"/><rect x="325.30" y="247.50" width="16.75" height="12.45" fill="#6796ef"/><rect x="343.05" y="247.50" width="16.75" height="12.45" fill="#0c16ee"/><rect x="360.80" y="247.50" width="16.75" height="12.45" fill="#0c16ee"/><rect x="378.55" y="247.50" width="16.75" height="12.45" fill="#0c16ee"/><rect x="396.30" y="247.50" width="16.75" height="12.45" fill="#6796ef"/><rect x="414.05" y="247.50" width="16.75" height="12.45" fill="#6796ef"/><rect x="431.80" y="247.50" width="16.75" height="12.45" fill="#6796ef"/><rect x="449.55" y="247.50" width="16.75" height="12.45" fill="#6796ef"/><rect x="467.30" y="247.50" width="16.75" height="12.45" fill="#6796ef"/><rect x="485.05" y="247.50" width="16.75" height="12.45" fill="#10f396"/><rect x="502.80" y="247.50" width="16.75" height="12.45" fill="#10f396"/><rect x="520.55" y="247.50" width="16.75" height="12.45" fill="#f8d7b5"/><rect x="147.80" y="260.95" width="16.75" height="12.45" fill="#ffff00"/><rect x="183.30" y="260.95" width="16.75" height="12.45" fill="#10f396"/><rect x="201.05" y="260.95" width="16.75" height="12.45" fill="#10f396"/><rect x="218.80" y="260.95" width="16.75" height="12.45" fill="#ffff00"/><rect x="236.55" y="260.95" width="16.75" height="12.45" fill="#ffff00"/><rect x="254.30" y="260.95" width="16.75" height="12.45" fill="#ffff00"/><rect x="272.05" y="260.95" width="16.75" height="12.45" fill="#ffff00"/><rect x="289.80" y="260.95" width="16.75" height="12.45" fill="#10f396"/><rect x="307.55" y="260.95" width="16.75" height="12.45" fill="#10d2d4"/><rect x="325.30" y="260.95" width="16.75" height="12.45" fill="#6796ef"/><rect x="343.05" y="260.95" width="16.75" height="12.45" fill="#6796ef"/><rect x="360.80" y="260.95" width="16.75" height="12.45" fill="#6796ef"/><rect x="378.55" y="260.95" width="16.75" height="12.45" fill="#6796ef"/><rect x="396.30" y="260.95" width="16.75" height="12.45" fill="#6796ef"/><rect x="414.05" y="260.95" width="16.75" height="12.45" fill="#6796ef"/><rect x="431.80" y="260.95" width="16.75" height="12.45" fill="#6796ef"/><rect x="449.55" y="260.95" width="16.75" height="12.45" fill="#6796ef"/><rect x="467.30" y="260.95" width="16.75" height="12.45" fill="#10d2d4"/><rect x="485.05" y="260.95" width="16.75" height="12.45" fill="#10f396"/><rect x="502.80" y="260.95" width="16.75" height="12.45" fill="#ffff00"/><rect x="520.55" y="260.95" width="16.75" height="12.45" fill="#f8d7b5"/><rect x="556.05" y="260.95" width="16.75" height="12.45" fill="#f8d7b5"/><rect x="573.80" y="260.95" width="16.75" height="12.45" fill="#f8d7b5"/><rect x="201.05" y="274.40" width="16.75" height="12.45" fill="#10f396"/><rect x="218.80" y="274.40" width="16.75" height="12.45" fill="#ffff00"/><rect x="236.55" y="274.40" width="16.75" height="12.45" fill="#ffff00"/><rect x="254.30" y="274.40" width="16.75" height="12.45" fill="#ffff00"/><rect x="272.05" y="274.40" width="16.75" height="12.45" fill="#ffff00"/><rect x="289.80" y="274.40" width="16.75" height="12.45" fill="#10f396"/><rect x="307.55" y="274.40" width="16.75" height="12.45" fill="#10d2d4"/><rect x="325.30" y="274.40" width="16.75" height="12.45" fill="#6796ef"/><rect x="343.05" y="274.40" width="16.75" height="12.45" fill="#6796ef"/><rect x="360.80" y="274.40" width="16.75" height="12.45" fill="#6796ef"/><rect x="378.55" y="274.40" width="16.75" height="12.45" fill="#6796ef"/><rect x="396.30" y="274.40" width="16.75" height="12.45" fill="#6796ef"/><rect x="414.05" y="274.40" width="16.75" height="12.45" fill="#6796ef"/><rect x="431.80" y="274.40" width="16.75" height="12.45" fill="#6796ef"/><rect x="449.55" y="274.40" width="16.75" height="12.45" fill="#10d2d4"/><rect x="467.30" y="274.40" width="16.75" height="12.45" fill="#10d2d4"/><rect x="485.05" y="274.40" width="16.75" height="12.45" fill="#10f396"/><rect x="502.80" y="274.40" width="16.75" height="12.45" fill="#ffff00"/><rect x="520.55" y="274.40" width="16.75" height="12.45" fill="#f8d7b5"/><rect x="538.30" y="274.40" width="16.75" height="12.45" fill="#f8d7b5"/><rect x="556.05" y="274.40" width="16.75" height="12.45" fill="#f8d7b5"/><rect x="218.80" y="287.85" width="16.75" height="12.45" fill="#ffff00"/><rect x="236.55" y="287.85" width="16.75" height="12.45" fill="#ffff00"/><rect x="254.30" y="287.85" width="16.75" height="12.45" fill="#ffff00"/><rect x="272.05" y="287.85" width="16.75" height="12.45" fill="#ffff00"/><rect x="289.80" y="287.85" width="16.75" height="12.45" fill="#ffff00"/><rect x="307.55" y="287.85" width="16.75" height="12.45" fill="#10d2d4"/><rect x="325.30" y="287.85" width="16.75" height="12.45" fill="#10d2d4"/><rect x="343.05" y="287.85" width="16.75" height="12.45" fill="#10d2d4"/><rect x="360.80" y="287.85" width="16.75" height="12.45" fill="#6796ef"/><rect x="378.55" y="287.85" width="16.75" height="12.45" fill="#6796ef"/><rect x="396.30" y="287.85" width="16.75" height="12.45" fill="#6796ef"/><rect x="414.05" y="287.85" width="16.75" height="12.45" fill="#6796ef"/><rect x="431.80" y="287.85" width="16.75" height="12.45" fill="#6796ef"/><rect x="449.55" y="287.85" width="16.75" height="12.45" fill="#10d2d4"/><rect x="467.30" y="287.85" width="16.75" height="12.45" fill="#10d2d4"/><rect x="485.05" y="287.85" width="16.75" height="12.45" fill="#10f396"/><rect x="502.80" y="287.85" width="16.75" height="12.45" fill="#f8d7b5"/><rect x="520.55" y="287.85" width="16.75" height="12.45" fill="#f8d7b5"/><rect x="538.30" y="287.85" width="16.75" height="12.45" fill="#f8d7b5"/><rect x="556.05" y="287.85" width="16.75" height="12.45" fill="#f8d7b5"/><rect x="573.80" y="287.85" width="16.75" height="12.45" fill="#f8d7b5"/><rect x="201.05" y="301.30" width="16.75" height="12.45" fill="#10f396"/><rect x="218.80" y="301.30" width="16.75" height="12.45" fill="#ffff00"/><rect x="236.55" y="301.30" width="16.75" height="12.45" fill="#ffff00"/><rect x="254.30" y="301.30" width="16.75" height="12.45" fill="#ffff00"/><rect x="272.05" y="301.30" width="16.75" height="12.45" fill="#ffff00"/><rect x="289.80" y="301.30" width="16.75" height="12.45" fill="#10f396"/><rect x="307.55" y="301.30" width="16.75" height="12.45" fill="#10d2d4"/><rect x="325.30" y="301.30" width="16.75" height="12.45" fill="#10d2d4"/><rect x="343.05" y="301.30" width="16.75" height="12.45" fill="#10d2d4"/><rect x="360.80" y="301.30" width="16.75" height="12.45" fill="#10d2d4"/><rect x="378.55" y="301.30" width="16.75" height="12.45" fill="#6796ef"/><rect x="396.30" y="301.30" width="16.75" height="12.45" fill="#6796ef"/><rect x="414.05" y="301.30" width="16.75" height="12.45" fill="#10d2d4"/><rect x="431.80" y="301.30" width="16.75" height="12.45" fill="#6796ef"/><rect x="449.55" y="301.30" width="16.75" height="12.45" fill="#10d2d4"/><rect x="467.30" y="301.30" width="16.75" height="12.45" fill="#10d2d4"/><rect x="485.05" y="301.30" width="16.75" height="12.45" fill="#10f396"/><rect x="502.80" y="301.30" width="16.75" height="12.45" fill="#ffff00"/><rect x="520.55" y="301.30" width="16.75" height="12.45" fill="#f8d7b5"/><rect x="538.30" y="301.30" width="16.75" height="12.45" fill="#f8d7b5"/><rect x="556.05" y="301.30" width="16.75" height="12.45" fill="#f8d7b5"/><rect x="573.80" y="301.30" width="16.75" height="12.45" fill="#f8d7b5"/><rect x="201.05" y="314.75" width="16.75" height="12.45" fill="#10f396"/><rect x="218.80" y="314.75" width="16.75" height="12.45" fill="#ffff00"/><rect x="236.55" y="314.75" width="16.75" height="12.45" fill="#ffff00"/><rect x="254.30" y="314.75" width="16.75" height="12.45" fill="#ffff00"/><rect x="272.05" y="314.75" width="16.75" height="12.45" fill="#ffff00"/><rect x="289.80" y="314.75" width="16.75" height="12.45" fill="#ffff00"/><rect x="307.55" y="314.75" width="16.75" height="12.45" fill="#10d2d4"/><rect x="325.30" y="314.75" width="16.75" height="12.45" fill="#10d2d4"/><rect x="343.05" y="314.75" width="16.75" height="12.45" fill="#10d2d4"/><rect x="360.80" y="314.75" width="16.75" height="12.45" fill="#10d2d4"/><rect x="378.55" y="314.75" width="16.75" height="12.45" fill="#6796ef"/><rect x="396.30" y="314.75" width="16.75" height="12.45" fill="#6796ef"/><rect x="414.05" y="314.75" width="16.75" height="12.45" fill="#10d2d4"/><rect x="431.80" y="314.75" width="16.75" height="12.45" fill="#10d2d4"/><rect x="449.55" y="314.75" width="16.75" height="12.45" fill="#10d2d4"/><rect x="467.30" y="314.75" width="16.75" height="12.45" fill="#64c9a3"/><rect x="485.05" y="314.75" width="16.75" height="12.45" fill="#10f396"/><rect x="502.80" y="314.75" width="16.75" height="12.45" fill="#ffff00"/><rect x="520.55" y="314.75" width="16.75" height="12.45" fill="#f8d7b5"/><rect x="538.30" y="314.75" width="16.75" height="12.45" fill="#f8d7b5"/><rect x="94.55" y="328.20" width="16.75" height="12.45" fill="#f8d7b5"/><rect x="183.30" y="328.20" width="16.75" height="12.45" fill="#ffff00"/><rect x="201.05" y="328.20" width="16.75" height="12.45" fill="#10f396"/><rect x="218.80" y="328.20" width="16.75" height="12.45" fill="#ffff00"/><rect x="236.55" y="328.20" width="16.75" height="12.45" fill="#ffff00"/><rect x="254.30" y="328.20" width="16.75" height="12.45" fill="#ffff00"/><rect x="272.05" y="328.20" width="16.75" height="12.45" fill="#ffff00"/><rect x="289.80" y="328.20" width="16.75" height="12.45" fill="#10f396"/><rect x="307.55" y="328.20" width="16.75" height="12.45" fill="#10d2d4"/><rect x="325.30" y="328.20" width="16.75" height="12.45" fill="#10d2d4"/><rect x="343.05" y="328.20" width="16.75" height="12.45" fill="#64c9a3"/><rect x="360.80" y="328.20" width="16.75" height="12.45" fill="#10d2d4"/><rect x="378.55" y="328.20" width="16.75" height="12.45" fill="#10d2d4"/><rect x="396.30" y="328.20" width="16.75" height="12.45" fill="#10d2d4"/><rect x="414.05" y="328.20" width="16.75" height="12.45" fill="#10d2d4"/><rect x="431.80" y="328.20" width="16.75" height="12.45" fill="#10d2d4"/><rect x="449.55" y="328.20" width="16.75" height="12.45" fill="#10d2d4"/><rect x="467.30" y="328.20" width="16.75" height="12.45" fill="#64c9a3"/><rect x="485.05" y="328.20" width="16.75" height="12.45" fill="#10f396"/><rect x="502.80" y="328.20" width="16.75" height="12.45" fill="#ffff00"/><rect x="538.30" y="328.20" width="16.75" height="12.45" fill="#f8d7b5"/><rect x="573.80" y="328.20" width="16.75" height="12.45" fill="#f8d7b5"/><rect x="147.80" y="341.65" width="16.75" height="12.45" fill="#f8d7b5"/><rect x="165.55" y="341.65" width="16.75" height="12.45" fill="#ffff00"/><rect x="183.30" y="341.65" width="16.75" height="12.45" fill="#10f396"/><rect x="201.05" y="341.65" width="16.75" height="12.45" fill="#10f396"/><rect x="218.80" y="341.65" width="16.75" height="12.45" fill="#ffff00"/><rect x="236.55" y="341.65" width="16.75" height="12.45" fill="#ffff00"/><rect x="254.30" y="341.65" width="16.75" height="12.45" fill="#ffff00"/><rect x="272.05" y="341.65" width="16.75" height="12.45" fill="#ffff00"/><rect x="289.80" y="341.65" width="16.75" height="12.45" fill="#ffff00"/><rect x="307.55" y="341.65" width="16.75" height="12.45" fill="#10d2d4"/><rect x="325.30" y="341.65" width="16.75" height="12.45" fill="#10d2d4"/><rect x="343.05" y="341.65" width="16.75" height="12.45" fill="#64c9a3"/><rect x="360.80" y="341.65" width="16.75" height="12.45" fill="#10d2d4"/><rect x="378.55" y="341.65" width="16.75" height="12.45" fill="#10d2d4"/><rect x="396.30" y="341.65" width="16.75" height="12.45" fill="#10d2d4"/><rect x="414.05" y="341.65" width="16.75" height="12.45" fill="#10d2d4"/><rect x="431.80" y="341.65" width="16.75" height="12.45" fill="#10d2d4"/><rect x="449.55" y="341.65" width="16.75" height="12.45" fill="#10d2d4"/><rect x="467.30" y="341.65" width="16.75" height="12.45" fill="#64c9a3"/><rect x="485.05" y="341.65" width="16.75" height="12.45" fill="#10f396"/><rect x="502.80" y="341.65" width="16.75" height="12.45" fill="#ffff00"/><rect x="573.80" y="341.65" width="16.75" height="12.45" fill="#f8d7b5"/><rect x="112.30" y="355.10" width="16.75" height="12.45" fill="#f8d7b5"/><rect x="130.05" y="355.10" width="16.75" height="12.45" fill="#f8d7b5"/><rect x="147.80" y="355.10" width="16.75" height="12.45" fill="#f8d7b5"/><rect x="165.55" y="355.10" width="16.75" height="12.45" fill="#ffff00"/><rect x="183.30" y="355.10" width="16.75" height="12.45" fill="#10f396"/><rect x="201.05" y="355.10" width="16.75" height="12.45" fill="#10f396"/><rect x="218.80" y="355.10" width="16.75" height="12.45" fill="#ffff00"/><rect x="236.55" y="355.10" width="16.75" height="12.45" fill="#ffff00"/><rect x="254.30" y="355.10" width="16.75" height="12.45" fill="#ffff00"/><rect x="272.05" y="355.10" width="16.75" height="12.45" fill="#10f396"/><rect x="289.80" y="355.10" width="16.75" height="12.45" fill="#ffff00"/><rect x="307.55" y="355.10" width="16.75" height="12.45" fill="#64c9a3"/><rect x="325.30" y="355.10" width="16.75" height="12.45" fill="#64c9a3"/><rect x="343.05" y="355.10" width="16.75" height="12.45" fill="#64c9a3"/><rect x="360.80" y="355.10" width="16.75" height="12.45" fill="#64c9a3"/><rect x="378.55" y="355.10" width="16.75" height="12.45" fill="#64c9a3"/><rect x="396.30" y="355.10" width="16.75" height="12.45" fill="#64c9a3"/><rect x="414.05" y="355.10" width="16.75" height="12.45" fill="#64c9a3"/><rect x="431.80" y="355.10" width="16.75" height="12.45" fill="#64c9a3"/><rect x="449.55" y="355.10" width="16.75" height="12.45" fill="#64c9a3"/><rect x="467.30" y="355.10" width="16.75" height="12.45" fill="#64c9a3"/><rect x="485.05" y="355.10" width="16.75" height="12.45" fill="#ffff00"/><rect x="502.80" y="355.10" width="16.75" height="12.45" fill="#ffff00"/><rect x="130.05" y="368.55" width="16.75" height="12.45" fill="#f8d7b5"/><rect x="147.80" y="368.55" width="16.75" height="12.45" fill="#f8d7b5"/><rect x="165.55" y="368.55" width="16.75" height="12.45" fill="#10f396"/><rect x="183.30" y="368.55" width="16.75" height="12.45" fill="#10f396"/><rect x="201.05" y="368.55" width="16.75" height="12.45" fill="#10f396"/><rect x="218.80" y="368.55" width="16.75" height="12.45" fill="#ffff00"/><rect x="236.55" y="368.55" width="16.75" height="12.45" fill="#ffff00"/><rect x="254.30" y="368.55" width="16.75" height="12.45" fill="#ffff00"/><rect x="272.05" y="368.55" width="16.75" height="12.45" fill="#ffff00"/><rect x="289.80" y="368.55" width="16.75" height="12.45" fill="#ffff00"/><rect x="307.55" y="368.55" width="16.75" height="12.45" fill="#64c9a3"/><rect x="325.30" y="368.55" width="16.75" height="12.45" fill="#64c9a3"/><rect x="343.05" y="368.55" width="16.75" height="12.45" fill="#64c9a3"/><rect x="360.80" y="368.55" width="16.75" height="12.45" fill="#64c9a3"/><rect x="378.55" y="368.55" width="16.75" height="12.45" fill="#64c9a3"/><rect x="396.30" y="368.55" width="16.75" height="12.45" fill="#64c9a3"/><rect x="414.05" y="368.55" width="16.75" height="12.45" fill="#64c9a3"/><rect x="431.80" y="368.55" width="16.75" height="12.45" fill="#64c9a3"/><rect x="449.55" y="368.55" width="16.75" height="12.45" fill="#64c9a3"/><rect x="467.30" y="368.55" width="16.75" height="12.45" fill="#10f396"/><rect x="485.05" y="368.55" width="16.75" height="12.45" fill="#ffff00"/><rect x="502.80" y="368.55" width="16.75" height="12.45" fill="#f8d7b5"/><rect x="520.55" y="368.55" width="16.75" height="12.45" fill="#f8d7b5"/><rect x="538.30" y="368.55" width="16.75" height="12.45" fill="#f8d7b5"/><rect x="556.05" y="368.55" width="16.75" height="12.45" fill="#f8d7b5"/><rect x="573.80" y="368.55" width="16.75" height="12.45" fill="#f8d7b5"/><rect x="130.05" y="382.00" width="16.75" height="12.45" fill="#f8d7b5"/><rect x="147.80" y="382.00" width="16.75" height="12.45" fill="#f8d7b5"/><rect x="165.55" y="382.00" width="16.75" height="12.45" fill="#10f396"/><rect x="183.30" y="382.00" width="16.75" height="12.45" fill="#10f396"/><rect x="201.05" y="382.00" width="16.75" height="12.45" fill="#10f396"/><rect x="218.80" y="382.00" width="16.75" height="12.45" fill="#ffff00"/><rect x="236.55" y="382.00" width="16.75" height="12.45" fill="#ffff00"/><rect x="254.30" y="382.00" width="16.75" height="12.45" fill="#ffff00"/><rect x="272.05" y="382.00" width="16.75" height="12.45" fill="#ffff00"/><rect x="289.80" y="382.00" width="16.75" height="12.45" fill="#ffff00"/><rect x="307.55" y="382.00" width="16.75" height="12.45" fill="#10f396"/><rect x="325.30" y="382.00" width="16.75" height="12.45" fill="#10f396"/><rect x="343.05" y="382.00" width="16.75" height="12.45" fill="#10f396"/><rect x="360.80" y="382.00" width="16.75" height="12.45" fill="#10f396"/><rect x="378.55" y="382.00" width="16.75" height="12.45" fill="#10f396"/><rect x="396.30" y="382.00" width="16.75" height="12.45" fill="#10f396"/><rect x="414.05" y="382.00" width="16.75" height="12.45" fill="#10f396"/><rect x="431.80" y="382.00" width="16.75" height="12.45" fill="#10f396"/><rect x="449.55" y="382.00" width="16.75" height="12.45" fill="#10f396"/><rect x="467.30" y="382.00" width="16.75" height="12.45" fill="#ffff00"/><rect x="485.05" y="382.00" width="16.75" height="12.45" fill="#f8d7b5"/><rect x="502.80" y="382.00" width="16.75" height="12.45" fill="#f8d7b5"/><g opacity="0.7" text-anchor="middle" style="font-family:'Liberation Sans', sans-serif;font-size:7.1px" fill="#000" stroke="#000" stroke-width="0.14"><text x="511.18" y="189.32">0.5</text><text x="440.18" y="202.77">2.0</text><text x="457.93" y="202.77">2.0</text><text x="475.68" y="202.77">2.0</text><text x="493.43" y="202.77">1.0</text><text x="511.18" y="202.77">0.5</text><text x="280.43" y="216.22">0.5</text><text x="298.18" y="216.22">0.5</text><text x="369.18" y="216.22">2.0</text><text x="386.93" y="216.22">2.0</text><text x="404.68" y="216.22">2.0</text><text x="422.43" y="216.22">2.5</text><text x="440.18" y="216.22">2.5</text><text x="457.93" y="216.22">2.0</text><text x="475.68" y="216.22">2.5</text><text x="493.43" y="216.22">1.5</text><text x="511.18" y="216.22">1.0</text><text x="209.43" y="229.67">0.5</text><text x="227.18" y="229.67">0.0</text><text x="244.93" y="229.67">0.0</text><text x="262.68" y="229.67">0.5</text><text x="280.43" y="229.67">1.0</text><text x="298.18" y="229.67">0.5</text><text x="333.68" y="229.67">2.0</text><text x="351.43" y="229.67">3.0</text><text x="369.18" y="229.67">2.5</text><text x="386.93" y="229.67">2.5</text><text x="404.68" y="229.67">2.5</text><text x="422.43" y="229.67">3.0</text><text x="440.18" y="229.67">3.0</text><text x="457.93" y="229.67">2.5</text><text x="475.68" y="229.67">2.5</text><text x="493.43" y="229.67">1.5</text><text x="511.18" y="229.67">1.0</text><text x="156.18" y="243.12">0.0</text><text x="173.93" y="243.12">0.0</text><text x="191.68" y="243.12">0.5</text><text x="209.43" y="243.12">0.5</text><text x="227.18" y="243.12">0.0</text><text x="244.93" y="243.12">0.5</text><text x="262.68" y="243.12">0.5</text><text x="280.43" y="243.12">1.0</text><text x="298.18" y="243.12">1.0</text><text x="315.93" y="243.12">2.5</text><text x="333.68" y="243.12">2.5</text><text x="351.43" y="243.12">3.0</text><text x="369.18" y="243.12">3.0</text><text x="386.93" y="243.12">3.0</text><text x="404.68" y="243.12">2.5</text><text x="422.43" y="243.12">3.0</text><text x="440.18" y="243.12">3.0</text><text x="457.93" y="243.12">2.5</text><text x="475.68" y="243.12">2.5</text><text x="493.43" y="243.12">1.5</text><text x="511.18" y="243.12">1.0</text><text x="528.92" y="243.12">0.0</text><text x="138.43" y="256.57">0.0</text><text x="156.18" y="256.57">0.0</text><text x="173.93" y="256.57">1.0</text><text x="191.68" y="256.57">1.0</text><text x="209.43" y="256.57">1.0</text><text x="227.18" y="256.57">0.5</text><text x="244.93" y="256.57">0.5</text><text x="262.68" y="256.57">0.5</text><text x="280.43" y="256.57">1.0</text><text x="298.18" y="256.57">1.0</text><text x="315.93" y="256.57">2.5</text><text x="333.68" y="256.57">2.5</text><text x="351.43" y="256.57">3.0</text><text x="369.18" y="256.57">3.0</text><text x="386.93" y="256.57">3.0</text><text x="404.68" y="256.57">2.5</text><text x="422.43" y="256.57">2.5</text><text x="440.18" y="256.57">2.5</text><text x="457.93" y="256.57">2.5</text><text x="475.68" y="256.57">2.5</text><text x="493.43" y="256.57">1.0</text><text x="511.18" y="256.57">1.0</text><text x="528.92" y="256.57">0.0</text><text x="156.18" y="270.02">0.5</text><text x="191.68" y="270.02">1.0</text><text x="209.43" y="270.02">1.0</text><text x="227.18" y="270.02">0.5</text><text x="244.93" y="270.02">0.5</text><text x="262.68" y="270.02">0.5</text><text x="280.43" y="270.02">0.5</text><text x="298.18" y="270.02">1.0</text><text x="315.93" y="270.02">2.0</text><text x="333.68" y="270.02">2.5</text><text x="351.43" y="270.02">2.5</text><text x="369.18" y="270.02">2.5</text><text x="386.93" y="270.02">2.5</text><text x="404.68" y="270.02">2.5</text><text x="422.43" y="270.02">2.5</text><text x="440.18" y="270.02">2.5</text><text x="457.93" y="270.02">2.5</text><text x="475.68" y="270.02">2.0</text><text x="493.43" y="270.02">1.0</text><text x="511.18" y="270.02">0.5</text><text x="528.92" y="270.02">0.0</text><text x="564.42" y="270.02">0.0</text><text x="582.17" y="270.02">0.0</text><text x="209.43" y="283.48">1.0</text><text x="227.18" y="283.48">0.5</text><text x="244.93" y="283.48">0.5</text><text x="262.68" y="283.48">0.5</text><text x="280.43" y="283.48">0.5</text><text x="298.18" y="283.48">1.0</text><text x="315.93" y="283.48">2.0</text><text x="333.68" y="283.48">2.5</text><text x="351.43" y="283.48">2.5</text><text x="369.18" y="283.48">2.5</text><text x="386.93" y="283.48">2.5</text><text x="404.68" y="283.48">2.5</text><text x="422.43" y="283.48">2.5</text><text x="440.18" y="283.48">2.5</text><text x="457.93" y="283.48">2.0</text><text x="475.68" y="283.48">2.0</text><text x="493.43" y="283.48">1.0</text><text x="511.18" y="283.48">0.5</text><text x="528.92" y="283.48">0.0</text><text x="546.67" y="283.48">0.0</text><text x="564.42" y="283.48">0.0</text><text x="227.18" y="296.93">0.5</text><text x="244.93" y="296.93">0.5</text><text x="262.68" y="296.93">0.5</text><text x="280.43" y="296.93">0.5</text><text x="298.18" y="296.93">0.5</text><text x="315.93" y="296.93">2.0</text><text x="333.68" y="296.93">2.0</text><text x="351.43" y="296.93">2.0</text><text x="369.18" y="296.93">2.5</text><text x="386.93" y="296.93">2.5</text><text x="404.68" y="296.93">2.5</text><text x="422.43" y="296.93">2.5</text><text x="440.18" y="296.93">2.5</text><text x="457.93" y="296.93">2.0</text><text x="475.68" y="296.93">2.0</text><text x="493.43" y="296.93">1.0</text><text x="511.18" y="296.93">0.0</text><text x="528.92" y="296.93">0.0</text><text x="546.67" y="296.93">0.0</text><text x="564.42" y="296.93">0.0</text><text x="582.17" y="296.93">0.0</text><text x="209.43" y="310.38">1.0</text><text x="227.18" y="310.38">0.5</text><text x="244.93" y="310.38">0.5</text><text x="262.68" y="310.38">0.5</text><text x="280.43" y="310.38">0.5</text><text x="298.18" y="310.38">1.0</text><text x="315.93" y="310.38">2.0</text><text x="333.68" y="310.38">2.0</text><text x="351.43" y="310.38">2.0</text><text x="369.18" y="310.38">2.0</text><text x="386.93" y="310.38">2.5</text><text x="404.68" y="310.38">2.5</text><text x="422.43" y="310.38">2.0</text><text x="440.18" y="310.38">2.5</text><text x="457.93" y="310.38">2.0</text><text x="475.68" y="310.38">2.0</text><text x="493.43" y="310.38">1.0</text><text x="511.18" y="310.38">0.5</text><text x="528.92" y="310.38">0.0</text><text x="546.67" y="310.38">0.0</text><text x="564.42" y="310.38">0.0</text><text x="582.17" y="310.38">0.0</text><text x="209.43" y="323.83">1.0</text><text x="227.18" y="323.83">0.5</text><text x="244.93" y="323.83">0.5</text><text x="262.68" y="323.83">0.5</text><text x="280.43" y="323.83">0.5</text><text x="298.18" y="323.83">0.5</text><text x="315.93" y="323.83">2.0</text><text x="333.68" y="323.83">2.0</text><text x="351.43" y="323.83">2.0</text><text x="369.18" y="323.83">2.0</text><text x="386.93" y="323.83">2.5</text><text x="404.68" y="323.83">2.5</text><text x="422.43" y="323.83">2.0</text><text x="440.18" y="323.83">2.0</text><text x="457.93" y="323.83">2.0</text><text x="475.68" y="323.83">1.5</text><text x="493.43" y="323.83">1.0</text><text x="511.18" y="323.83">0.5</text><text x="528.92" y="323.83">0.0</text><text x="546.67" y="323.83">0.0</text><text x="102.92" y="337.27">0.0</text><text x="191.68" y="337.27">0.5</text><text x="209.43" y="337.27">1.0</text><text x="227.18" y="337.27">0.5</text><text x="244.93" y="337.27">0.5</text><text x="262.68" y="337.27">0.5</text><text x="280.43" y="337.27">0.5</text><text x="298.18" y="337.27">1.0</text><text x="315.93" y="337.27">2.0</text><text x="333.68" y="337.27">2.0</text><text x="351.43" y="337.27">1.5</text><text x="369.18" y="337.27">2.0</text><text x="386.93" y="337.27">2.0</text><text x="404.68" y="337.27">2.0</text><text x="422.43" y="337.27">2.0</text><text x="440.18" y="337.27">2.0</text><text x="457.93" y="337.27">2.0</text><text x="475.68" y="337.27">1.5</text><text x="493.43" y="337.27">1.0</text><text x="511.18" y="337.27">0.5</text><text x="546.67" y="337.27">0.0</text><text x="582.17" y="337.27">0.0</text><text x="156.18" y="350.73">0.0</text><text x="173.93" y="350.73">0.5</text><text x="191.68" y="350.73">1.0</text><text x="209.43" y="350.73">1.0</text><text x="227.18" y="350.73">0.5</text><text x="244.93" y="350.73">0.5</text><text x="262.68" y="350.73">0.5</text><text x="280.43" y="350.73">0.5</text><text x="298.18" y="350.73">0.5</text><text x="315.93" y="350.73">2.0</text><text x="333.68" y="350.73">2.0</text><text x="351.43" y="350.73">1.5</text><text x="369.18" y="350.73">2.0</text><text x="386.93" y="350.73">2.0</text><text x="404.68" y="350.73">2.0</text><text x="422.43" y="350.73">2.0</text><text x="440.18" y="350.73">2.0</text><text x="457.93" y="350.73">2.0</text><text x="475.68" y="350.73">1.5</text><text x="493.43" y="350.73">1.0</text><text x="511.18" y="350.73">0.5</text><text x="582.17" y="350.73">0.0</text><text x="120.67" y="364.18">0.0</text><text x="138.43" y="364.18">0.0</text><text x="156.18" y="364.18">0.0</text><text x="173.93" y="364.18">0.5</text><text x="191.68" y="364.18">1.0</text><text x="209.43" y="364.18">1.0</text><text x="227.18" y="364.18">0.5</text><text x="244.93" y="364.18">0.5</text><text x="262.68" y="364.18">0.5</text><text x="280.43" y="364.18">1.0</text><text x="298.18" y="364.18">0.5</text><text x="315.93" y="364.18">1.5</text><text x="333.68" y="364.18">1.5</text><text x="351.43" y="364.18">1.5</text><text x="369.18" y="364.18">1.5</text><text x="386.93" y="364.18">1.5</text><text x="404.68" y="364.18">1.5</text><text x="422.43" y="364.18">1.5</text><text x="440.18" y="364.18">1.5</text><text x="457.93" y="364.18">1.5</text><text x="475.68" y="364.18">1.5</text><text x="493.43" y="364.18">0.5</text><text x="511.18" y="364.18">0.5</text><text x="138.43" y="377.62">0.0</text><text x="156.18" y="377.62">0.0</text><text x="173.93" y="377.62">1.0</text><text x="191.68" y="377.62">1.0</text><text x="209.43" y="377.62">1.0</text><text x="227.18" y="377.62">0.5</text><text x="244.93" y="377.62">0.5</text><text x="262.68" y="377.62">0.5</text><text x="280.43" y="377.62">0.5</text><text x="298.18" y="377.62">0.5</text><text x="315.93" y="377.62">1.5</text><text x="333.68" y="377.62">1.5</text><text x="351.43" y="377.62">1.5</text><text x="369.18" y="377.62">1.5</text><text x="386.93" y="377.62">1.5</text><text x="404.68" y="377.62">1.5</text><text x="422.43" y="377.62">1.5</text><text x="440.18" y="377.62">1.5</text><text x="457.93" y="377.62">1.5</text><text x="475.68" y="377.62">1.0</text><text x="493.43" y="377.62">0.5</text><text x="511.18" y="377.62">0.0</text><text x="528.92" y="377.62">0.0</text><text x="546.67" y="377.62">0.0</text><text x="564.42" y="377.62">0.0</text><text x="582.17" y="377.62">0.0</text><text x="138.43" y="391.08">0.0</text><text x="156.18" y="391.08">0.0</text><text x="173.93" y="391.08">1.0</text><text x="191.68" y="391.08">1.0</text><text x="209.43" y="391.08">1.0</text><text x="227.18" y="391.08">0.5</text><text x="244.93" y="391.08">0.5</text><text x="262.68" y="391.08">0.5</text><text x="280.43" y="391.08">0.5</text><text x="298.18" y="391.08">0.5</text><text x="315.93" y="391.08">1.0</text><text x="333.68" y="391.08">1.0</text><text x="351.43" y="391.08">1.0</text><text x="369.18" y="391.08">1.0</text><text x="386.93" y="391.08">1.0</text><text x="404.68" y="391.08">1.0</text><text x="422.43" y="391.08">1.0</text><text x="440.18" y="391.08">1.0</text><text x="457.93" y="391.08">1.0</text><text x="475.68" y="391.08">0.5</text><text x="493.43" y="391.08">0.0</text><text x="511.18" y="391.08">0.0</text></g><rect x="94.65" y="262.55" width="17.15" height="9.55" fill="#e9e9e9"/><path d="M94.65,261.75 H111.80 M94.65,272.50 H111.80" stroke="#000" stroke-width="1.6"/><text x="102.92" y="269.77" text-anchor="middle" style="font-family:'Liberation Sans', sans-serif;font-size:7.2px" fill="#444">1</text><rect x="59.15" y="343.25" width="34.90" height="9.55" fill="#ffffff"/><path d="M59.15,342.45 H94.05 M59.15,353.20 H94.05" stroke="#000" stroke-width="1.6"/><text x="67.42" y="350.48" text-anchor="middle" style="font-family:'Liberation Sans', sans-serif;font-size:7.2px" fill="#444">0</text><text x="85.17" y="350.48" text-anchor="middle" style="font-family:'Liberation Sans', sans-serif;font-size:7.2px" fill="#444">0</text><rect x="41.40" y="356.70" width="52.65" height="9.55" fill="#ffffff"/><path d="M41.40,355.90 H94.05 M41.40,366.65 H94.05" stroke="#000" stroke-width="1.6"/><text x="49.67" y="363.93" text-anchor="middle" style="font-family:'Liberation Sans', sans-serif;font-size:7.2px" fill="#444">0</text><text x="67.42" y="363.93" text-anchor="middle" style="font-family:'Liberation Sans', sans-serif;font-size:7.2px" fill="#444">0</text><text x="85.17" y="363.93" text-anchor="middle" style="font-family:'Liberation Sans', sans-serif;font-size:7.2px" fill="#444">0</text><text x="33.6" y="128.95" text-anchor="end" style="font-family:'Liberation Sans', sans-serif;font-size:6.6px" fill="#222" stroke="#222" stroke-width="0.1">4800</text><text x="33.6" y="142.40" text-anchor="end" style="font-family:'Liberation Sans', sans-serif;font-size:6.6px" fill="#222" stroke="#222" stroke-width="0.1">4600</text><text x="33.6" y="155.85" text-anchor="end" style="font-family:'Liberation Sans', sans-serif;font-size:6.6px" fill="#222" stroke="#222" stroke-width="0.1">4400</text><text x="33.6" y="169.30" text-anchor="end" style="font-family:'Liberation Sans', sans-serif;font-size:6.6px" fill="#222" stroke="#222" stroke-width="0.1">4200</text><text x="33.6" y="182.75" text-anchor="end" style="font-family:'Liberation Sans', sans-serif;font-size:6.6px" fill="#222" stroke="#222" stroke-width="0.1">4000</text><text x="33.6" y="196.20" text-anchor="end" style="font-family:'Liberation Sans', sans-serif;font-size:6.6px" fill="#222" stroke="#222" stroke-width="0.1">3800</text><text x="33.6" y="209.65" text-anchor="end" style="font-family:'Liberation Sans', sans-serif;font-size:6.6px" fill="#222" stroke="#222" stroke-width="0.1">3600</text><text x="33.6" y="223.10" text-anchor="end" style="font-family:'Liberation Sans', sans-serif;font-size:6.6px" fill="#222" stroke="#222" stroke-width="0.1">3400</text><text x="33.6" y="236.55" text-anchor="end" style="font-family:'Liberation Sans', sans-serif;font-size:6.6px" fill="#222" stroke="#222" stroke-width="0.1">3200</text><text x="33.6" y="250.00" text-anchor="end" style="font-family:'Liberation Sans', sans-serif;font-size:6.6px" fill="#222" stroke="#222" stroke-width="0.1">3000</text><text x="33.6" y="263.45" text-anchor="end" style="font-family:'Liberation Sans', sans-serif;font-size:6.6px" fill="#222" stroke="#222" stroke-width="0.1">2800</text><text x="33.6" y="276.90" text-anchor="end" style="font-family:'Liberation Sans', sans-serif;font-size:6.6px" fill="#222" stroke="#222" stroke-width="0.1">2600</text><text x="33.6" y="290.35" text-anchor="end" style="font-family:'Liberation Sans', sans-serif;font-size:6.6px" fill="#222" stroke="#222" stroke-width="0.1">2400</text><text x="33.6" y="303.80" text-anchor="end" style="font-family:'Liberation Sans', sans-serif;font-size:6.6px" fill="#222" stroke="#222" stroke-width="0.1">2200</text><text x="33.6" y="317.25" text-anchor="end" style="font-family:'Liberation Sans', sans-serif;font-size:6.6px" fill="#222" stroke="#222" stroke-width="0.1">2000</text><text x="33.6" y="330.70" text-anchor="end" style="font-family:'Liberation Sans', sans-serif;font-size:6.6px" fill="#222" stroke="#222" stroke-width="0.1">1800</text><text x="33.6" y="344.15" text-anchor="end" style="font-family:'Liberation Sans', sans-serif;font-size:6.6px" fill="#222" stroke="#222" stroke-width="0.1">1600</text><text x="33.6" y="357.60" text-anchor="end" style="font-family:'Liberation Sans', sans-serif;font-size:6.6px" fill="#222" stroke="#222" stroke-width="0.1">1400</text><text x="33.6" y="371.05" text-anchor="end" style="font-family:'Liberation Sans', sans-serif;font-size:6.6px" fill="#222" stroke="#222" stroke-width="0.1">1200</text><text x="33.6" y="384.50" text-anchor="end" style="font-family:'Liberation Sans', sans-serif;font-size:6.6px" fill="#222" stroke="#222" stroke-width="0.1">1000</text><text x="33.6" y="397.95" text-anchor="end" style="font-family:'Liberation Sans', sans-serif;font-size:6.6px" fill="#222" stroke="#222" stroke-width="0.1">800</text><text transform="translate(16.2,253.9) rotate(-90)" text-anchor="middle" style="font-family:'Liberation Sans', sans-serif;font-size:6.4px;font-weight:bold" fill="#111">Höhe</text><text x="40.80" y="407.0" text-anchor="middle" style="font-family:'Liberation Sans', sans-serif;font-size:6.8px" fill="#222" stroke="#222" stroke-width="0.1">6:00</text><text x="76.30" y="407.0" text-anchor="middle" style="font-family:'Liberation Sans', sans-serif;font-size:6.8px" fill="#222" stroke="#222" stroke-width="0.1">7:00</text><text x="111.80" y="407.0" text-anchor="middle" style="font-family:'Liberation Sans', sans-serif;font-size:6.8px" fill="#222" stroke="#222" stroke-width="0.1">8:00</text><text x="147.30" y="407.0" text-anchor="middle" style="font-family:'Liberation Sans', sans-serif;font-size:6.8px" fill="#222" stroke="#222" stroke-width="0.1">9:00</text><text x="182.80" y="407.0" text-anchor="middle" style="font-family:'Liberation Sans', sans-serif;font-size:6.8px" fill="#222" stroke="#222" stroke-width="0.1">10:00</text><text x="218.30" y="407.0" text-anchor="middle" style="font-family:'Liberation Sans', sans-serif;font-size:6.8px" fill="#222" stroke="#222" stroke-width="0.1">11:00</text><text x="253.80" y="407.0" text-anchor="middle" style="font-family:'Liberation Sans', sans-serif;font-size:6.8px" fill="#222" stroke="#222" stroke-width="0.1">12:00</text><text x="289.30" y="407.0" text-anchor="middle" style="font-family:'Liberation Sans', sans-serif;font-size:6.8px" fill="#222" stroke="#222" stroke-width="0.1">13:00</text><text x="324.80" y="407.0" text-anchor="middle" style="font-family:'Liberation Sans', sans-serif;font-size:6.8px" fill="#222" stroke="#222" stroke-width="0.1">14:00</text><text x="360.30" y="407.0" text-anchor="middle" style="font-family:'Liberation Sans', sans-serif;font-size:6.8px" fill="#222" stroke="#222" stroke-width="0.1">15:00</text><text x="395.80" y="407.0" text-anchor="middle" style="font-family:'Liberation Sans', sans-serif;font-size:6.8px" fill="#222" stroke="#222" stroke-width="0.1">16:00</text><text x="431.30" y="407.0" text-anchor="middle" style="font-family:'Liberation Sans', sans-serif;font-size:6.8px" fill="#222" stroke="#222" stroke-width="0.1">17:00</text><text x="466.80" y="407.0" text-anchor="middle" style="font-family:'Liberation Sans', sans-serif;font-size:6.8px" fill="#222" stroke="#222" stroke-width="0.1">18:00</text><text x="502.30" y="407.0" text-anchor="middle" style="font-family:'Liberation Sans', sans-serif;font-size:6.8px" fill="#222" stroke="#222" stroke-width="0.1">19:00</text><text x="537.80" y="407.0" text-anchor="middle" style="font-family:'Liberation Sans', sans-serif;font-size:6.8px" fill="#222" stroke="#222" stroke-width="0.1">20:00</text><text x="573.30" y="407.0" text-anchor="middle" style="font-family:'Liberation Sans', sans-serif;font-size:6.8px" fill="#222" stroke="#222" stroke-width="0.1">21:00</text><text x="315.92" y="415.6" text-anchor="middle" style="font-family:'Liberation Sans', sans-serif;font-size:6.5px;font-weight:bold" fill="#111">Zeit (LT)</text><rect x="0" y="0" width="1.1" height="423" fill="#4b3f45"/><rect x="1" y="0" width="2" height="1" fill="#6e6266"/><rect x="1" y="1" width="1" height="1" fill="#b9b1b4"/><rect x="3" y="0" width="594" height="1" fill="#d6d6d6"/><rect x="597" y="0" width="3" height="1" fill="#5a5055"/><rect x="599" y="1" width="1" height="1" fill="#8a8085"/><rect x="1" y="421" width="1" height="2" fill="#6a7060"/><rect x="599" y="422" width="1" height="1" fill="#9a9a9a"/></svg>
</body></html>
